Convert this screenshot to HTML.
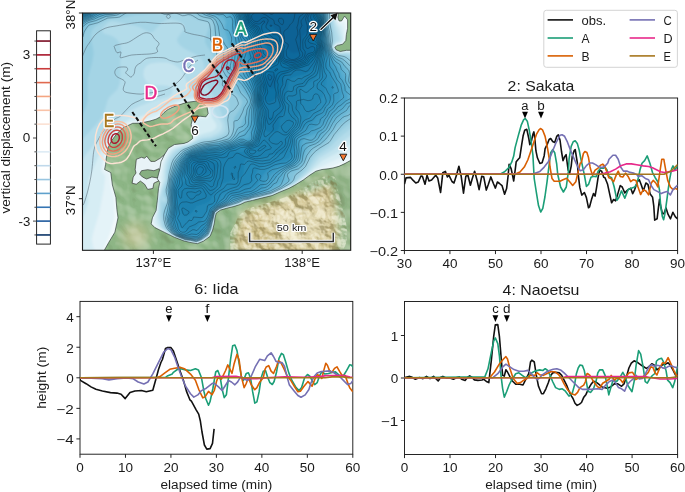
<!DOCTYPE html>
<html><head><meta charset="utf-8"><style>html,body{margin:0;padding:0;background:#fff;width:685px;height:492px;overflow:hidden}svg{display:block;will-change:transform}</style></head>
<body><svg width="685" height="492" viewBox="0 0 685 492"><defs>
<clipPath id="csak"><rect x="404.4" y="98" width="273.20" height="152.50"/></clipPath>
<clipPath id="ciida"><rect x="80" y="301.4" width="272.80" height="152.80"/></clipPath>
<clipPath id="cnao"><rect x="404.5" y="301.5" width="273.10" height="153.00"/></clipPath>
</defs>
<defs>
<clipPath id="mapclip"><rect x="82.5" y="13.0" width="268.2" height="237.3"/></clipPath>
<filter id="b1" x="-50%" y="-50%" width="200%" height="200%"><feGaussianBlur stdDeviation="1"/></filter>
<filter id="b2" x="-50%" y="-50%" width="200%" height="200%"><feGaussianBlur stdDeviation="2"/></filter>
<filter id="b3" x="-50%" y="-50%" width="200%" height="200%"><feGaussianBlur stdDeviation="3"/></filter>
<filter id="b4" x="-50%" y="-50%" width="200%" height="200%"><feGaussianBlur stdDeviation="4"/></filter>
<filter id="b5" x="-50%" y="-50%" width="200%" height="200%"><feGaussianBlur stdDeviation="5"/></filter>
<filter id="b6" x="-50%" y="-50%" width="200%" height="200%"><feGaussianBlur stdDeviation="6"/></filter>
<filter id="b8" x="-50%" y="-50%" width="200%" height="200%"><feGaussianBlur stdDeviation="8"/></filter>
<filter id="b12" x="-50%" y="-50%" width="200%" height="200%"><feGaussianBlur stdDeviation="12"/></filter>
<filter id="hillhi" x="0" y="0" width="100%" height="100%" color-interpolation-filters="sRGB"><feTurbulence type="fractalNoise" baseFrequency="0.035" numOctaves="3" seed="11" result="n"/><feDiffuseLighting in="n" surfaceScale="6" diffuseConstant="1" lighting-color="#fff" result="l"><feDistantLight azimuth="315" elevation="45"/></feDiffuseLighting><feColorMatrix in="l" type="matrix" values="0 0 0 0 1  0 0 0 0 1  0 0 0 0 0.97  1.6 0 0 0 -1.0"/></filter>
<filter id="hilllo" x="0" y="0" width="100%" height="100%" color-interpolation-filters="sRGB"><feTurbulence type="fractalNoise" baseFrequency="0.035" numOctaves="3" seed="11" result="n"/><feDiffuseLighting in="n" surfaceScale="6" diffuseConstant="1" lighting-color="#fff" result="l"><feDistantLight azimuth="315" elevation="45"/></feDiffuseLighting><feColorMatrix in="l" type="matrix" values="0 0 0 0 0.25  0 0 0 0 0.25  0 0 0 0 0.1  -1.4 0 0 0 0.75"/></filter>
<filter id="hillhi2" x="0" y="0" width="100%" height="100%" color-interpolation-filters="sRGB"><feTurbulence type="fractalNoise" baseFrequency="0.07" numOctaves="4" seed="5" result="n"/><feDiffuseLighting in="n" surfaceScale="7" diffuseConstant="1" lighting-color="#fff" result="l"><feDistantLight azimuth="315" elevation="40"/></feDiffuseLighting><feColorMatrix in="l" type="matrix" values="0 0 0 0 1  0 0 0 0 0.99  0 0 0 0 0.93  1.8 0 0 0 -1.1"/></filter>
<filter id="hilllo2" x="0" y="0" width="100%" height="100%" color-interpolation-filters="sRGB"><feTurbulence type="fractalNoise" baseFrequency="0.07" numOctaves="4" seed="5" result="n"/><feDiffuseLighting in="n" surfaceScale="7" diffuseConstant="1" lighting-color="#fff" result="l"><feDistantLight azimuth="315" elevation="40"/></feDiffuseLighting><feColorMatrix in="l" type="matrix" values="0 0 0 0 0.45  0 0 0 0 0.4  0 0 0 0 0.2  -1.6 0 0 0 0.8"/></filter>
</defs>
<g clip-path="url(#mapclip)">
<rect x="80" y="10" width="275" height="245" fill="#f2f9fb"/>
<g filter="url(#b1)">
<path fill-rule="evenodd" fill="#e4f3f8" d="M102.5,254.5 80.0,254.5 79.8,10.0 341.2,10.0 338.0,10.9 337.0,17.5 339.0,21.7 342.0,22.0 344.5,20.9 344.8,21.5 346.3,28.5 345.4,33.5 345.1,40.5 342.0,44.2 337.0,44.8 334.3,47.0 336.0,49.7 340.0,51.7 344.5,50.3 352.5,50.3 354.5,50.8 354.5,155.2 342.5,162.1 331.5,166.8 315.5,170.5 296.5,184.3 274.0,194.8 261.5,198.4 252.5,199.9 249.5,201.4 244.5,201.9 239.5,204.9 233.0,206.9 226.5,207.9 220.5,209.9 215.9,213.0 212.4,230.5 209.0,236.9 202.5,241.4 197.5,243.4 184.5,241.4 175.5,237.9 162.5,230.7 157.0,228.5 155.0,227.3 151.9,223.0 152.7,217.5 156.3,210.5 156.3,208.0 156.8,207.5 157.2,198.5 157.7,198.0 158.9,187.0 160.0,183.5 160.0,181.9 158.1,178.5 158.4,176.5 161.7,161.5 165.9,153.0 168.5,148.5 174.5,144.8 188.0,142.4 192.6,139.0 193.1,138.5 193.2,133.0 192.3,123.5 193.0,119.3 196.5,116.7 205.0,116.6 206.0,117.1 208.5,113.5 207.9,108.5 207.4,106.5 206.5,105.6 202.5,102.6 201.0,102.6 195.5,100.6 191.0,101.5 187.0,101.5 176.5,105.0 167.9,109.0 164.3,111.5 159.5,116.5 155.0,118.7 149.0,120.8 141.5,122.3 132.5,122.5 122.5,127.5 115.0,134.5 111.0,140.0 109.0,143.9 107.4,147.5 105.3,157.0 103.7,169.5 109.4,173.0 110.8,185.5 114.0,197.5 114.6,217.5 110.1,233.5 102.9,250.0 103.0,254.5 102.5,254.5Z"/>
<path fill-rule="evenodd" fill="#d6edf4" d="M97.0,254.5 80.0,254.5 79.8,10.0 337.0,10.0 335.9,18.0 337.6,22.5 342.4,26.5 343.6,32.0 344.1,40.0 341.5,43.5 337.0,44.2 333.9,47.0 335.8,50.0 340.0,52.1 345.0,50.8 354.5,51.7 354.5,147.8 341.0,157.3 327.5,163.2 318.5,168.3 315.0,169.5 296.5,183.7 286.5,189.0 271.5,195.6 257.0,199.1 252.5,199.6 249.5,201.1 244.5,201.6 239.5,204.6 233.0,206.6 226.5,207.6 220.5,209.6 215.7,213.0 212.1,230.5 209.6,236.0 201.5,241.7 197.5,243.2 195.0,243.2 192.5,242.2 183.0,240.7 175.5,237.7 162.0,230.1 155.9,225.5 154.4,222.5 154.3,218.5 157.0,210.5 157.7,199.0 161.3,182.0 160.4,178.0 162.9,164.0 165.2,158.0 169.7,150.0 174.5,146.5 188.5,143.1 193.9,139.5 197.3,130.0 196.2,122.0 196.6,120.5 197.5,119.5 199.0,119.1 204.5,118.6 206.0,119.0 207.5,118.3 209.7,113.5 208.3,106.0 203.0,101.6 196.0,99.5 186.5,100.3 176.0,103.7 167.0,107.8 163.0,110.4 158.5,114.6 154.5,116.5 141.0,120.4 132.0,121.1 121.5,126.5 114.0,133.5 109.9,139.0 105.3,149.0 101.2,169.5 101.8,172.0 105.2,176.5 103.8,188.5 99.3,212.5 93.2,232.5 91.9,239.0 92.9,246.5 97.0,254.5Z"/>
<path fill-rule="evenodd" fill="#c4e4ef" d="M197.5,242.8 195.5,242.9 190.0,241.4 184.5,240.8 175.5,237.3 169.6,234.0 162.0,229.1 159.9,227.0 157.7,223.0 156.7,217.0 157.9,211.0 158.3,199.5 160.9,188.0 163.2,181.0 163.7,171.5 164.7,164.5 166.7,159.0 170.0,153.0 172.0,150.5 175.5,147.9 189.0,143.8 194.5,140.5 200.0,135.2 203.0,133.9 211.9,131.5 214.9,129.5 216.6,127.0 216.3,124.0 212.2,118.0 211.3,112.0 209.4,105.0 204.0,100.4 196.0,97.5 186.5,97.9 182.5,99.1 165.5,105.8 155.5,111.4 140.0,116.6 131.0,118.6 120.5,124.5 112.5,131.8 107.6,138.0 103.2,145.5 89.0,177.8 87.9,184.0 88.3,201.5 84.9,212.5 80.0,223.6 79.8,10.0 335.5,10.0 334.7,18.5 336.1,23.5 339.5,28.8 342.5,39.0 341.0,42.4 336.5,43.6 333.5,46.5 333.6,47.5 335.5,50.4 340.0,52.7 345.5,51.5 354.5,52.8 354.5,140.2 338.0,152.6 322.5,160.4 308.1,174.0 296.0,183.4 290.0,186.6 271.0,195.2 252.5,199.3 249.0,200.8 244.5,201.3 239.0,204.3 232.5,206.3 226.5,207.3 220.2,209.5 215.4,213.0 211.9,230.0 209.2,236.0 202.5,240.8 197.5,242.8Z"/>
<path fill-rule="evenodd" fill="#b3dcea" d="M197.0,242.6 185.0,240.6 176.0,237.1 170.0,233.9 162.5,228.1 161.1,225.5 159.0,217.0 159.2,199.5 162.2,188.5 165.6,180.0 165.5,172.0 167.2,163.0 169.7,157.5 172.7,153.0 176.5,149.5 179.5,147.9 189.5,144.5 200.5,138.2 211.0,136.2 218.0,133.0 220.5,130.9 222.0,128.0 222.1,125.0 221.0,121.8 214.9,112.5 211.0,102.9 205.5,97.5 193.5,90.0 190.0,87.0 187.3,83.0 183.2,73.0 178.9,68.0 173.0,64.3 168.0,62.6 158.0,62.4 150.5,63.4 146.1,66.0 143.7,70.0 143.4,75.5 145.3,80.5 148.0,83.3 152.0,85.0 165.5,85.5 170.5,86.8 172.1,88.0 173.0,90.0 171.7,94.0 170.0,95.8 167.5,97.2 157.0,99.7 141.0,105.4 129.0,111.2 123.0,115.2 108.7,128.5 95.2,143.0 86.2,154.0 80.0,163.8 79.8,10.0 334.0,10.0 333.2,16.0 333.8,21.5 339.6,39.5 338.2,41.5 336.0,42.6 333.9,45.0 333.0,47.5 335.0,50.6 339.5,53.2 345.5,52.4 351.0,53.2 354.5,54.4 354.5,132.7 342.0,141.8 333.5,149.5 319.5,157.8 307.5,172.8 297.3,181.5 293.0,184.3 271.0,194.8 252.4,199.0 249.0,200.5 244.0,201.1 239.0,204.0 232.5,206.0 226.5,207.0 220.0,209.3 215.5,212.3 211.6,230.0 209.0,235.7 202.2,240.5 197.0,242.6Z"/>
<path fill-rule="evenodd" fill="#a4d4e5" d="M197.0,242.3 185.0,240.3 181.0,238.8 171.0,234.0 165.4,229.5 163.0,226.0 161.1,217.0 160.9,204.5 161.5,200.3 162.0,201.5 163.5,202.3 165.0,201.9 166.1,200.5 166.0,199.0 163.4,196.0 163.1,192.0 166.7,180.5 167.1,172.5 168.7,165.0 171.0,159.5 174.7,154.0 177.8,151.0 182.5,148.0 190.0,145.3 199.5,140.7 203.5,139.6 211.0,138.8 219.8,135.5 223.7,133.0 225.5,130.0 225.9,126.5 225.0,122.5 216.7,101.0 214.0,96.0 207.1,86.5 205.0,82.0 204.0,76.5 204.1,65.0 202.9,61.0 201.0,58.4 198.0,55.7 183.4,48.0 180.2,45.5 177.7,42.5 177.0,40.0 177.5,38.0 183.4,30.0 184.5,27.0 183.0,24.0 178.0,20.9 171.0,19.0 166.2,20.0 161.2,23.0 154.0,30.8 151.0,32.4 148.5,31.8 139.5,27.1 134.5,25.6 114.0,21.6 110.7,21.5 108.3,22.5 103.1,27.5 102.1,30.0 102.5,32.0 104.5,33.8 112.0,36.1 116.0,38.5 118.9,42.0 120.7,47.0 121.1,51.5 120.2,64.0 120.4,78.0 119.6,84.0 116.9,90.0 110.0,96.6 108.0,99.2 104.3,112.0 101.0,118.5 96.2,124.5 80.0,141.6 79.9,10.0 332.3,10.0 331.8,19.5 335.2,38.5 334.1,43.0 332.4,46.0 332.6,48.0 334.5,51.0 339.0,53.7 347.2,54.0 350.5,55.0 354.5,57.4 354.5,125.7 339.5,137.5 330.1,147.0 317.3,155.5 314.7,158.5 306.5,171.1 295.5,181.9 292.5,183.9 271.0,194.2 252.0,198.7 249.0,200.0 244.0,200.7 239.0,203.5 220.0,208.9 215.4,212.0 214.3,214.5 211.2,230.0 208.7,235.5 202.0,240.3 197.0,242.3Z"/>
<path fill-rule="evenodd" fill="#95cce0" d="M197.5,241.5 196.0,242.0 183.5,239.4 176.0,236.3 168.1,231.0 165.8,228.5 164.3,225.0 162.8,216.0 162.8,210.5 163.8,206.5 166.5,202.7 167.2,200.5 165.3,193.5 165.2,190.5 167.6,181.0 169.3,169.5 172.0,162.0 176.1,155.5 183.0,149.3 194.5,144.4 202.0,141.7 212.5,140.3 224.5,136.3 227.7,134.0 229.4,130.5 229.6,126.5 227.6,117.0 229.0,104.0 228.6,100.0 226.7,96.0 218.9,85.5 216.2,80.5 215.0,75.5 214.9,63.5 214.0,58.0 212.1,53.5 206.6,45.5 205.1,42.0 205.3,37.5 209.1,27.0 209.0,23.0 207.5,21.8 198.0,19.8 188.5,15.3 183.5,13.7 176.0,12.5 165.0,12.4 134.0,15.2 122.0,17.9 110.0,18.9 104.9,21.0 95.3,26.5 92.2,30.0 90.8,34.5 90.9,38.5 93.3,49.5 93.6,54.0 92.2,62.5 87.6,79.5 87.8,100.5 85.0,110.0 80.0,118.9 79.9,10.0 330.7,10.0 330.3,19.5 332.2,32.5 332.6,41.0 331.6,46.0 331.9,48.0 334.1,51.5 339.0,54.7 346.5,55.9 349.3,57.5 354.5,63.3 354.5,119.3 339.0,132.3 327.7,144.5 314.9,153.5 312.2,157.0 305.0,169.0 294.7,181.0 292.2,183.0 285.5,186.9 270.5,193.8 252.0,198.2 248.5,199.7 244.0,200.2 238.5,203.1 220.0,208.5 215.0,211.9 214.1,214.0 210.9,229.5 208.5,235.0 202.0,239.8 197.5,241.5Z"/>
<path fill-rule="evenodd" fill="#80c2db" d="M80.0,45.4 80.0,9.9 133.1,10.0 119.5,15.2 106.5,18.1 91.0,24.2 87.9,27.0 84.9,31.5 80.0,45.4Z M196.5,241.5 185.5,239.6 175.5,235.6 170.7,232.5 167.9,229.5 166.2,226.5 164.8,219.0 164.6,212.5 165.2,209.0 168.0,201.5 166.8,189.5 171.4,168.5 173.8,162.5 177.0,157.4 181.9,152.0 186.2,149.0 200.5,143.7 215.5,141.2 227.0,138.2 230.1,136.5 232.4,133.5 233.9,129.5 234.1,118.0 240.7,108.0 242.5,102.5 242.0,100.5 238.6,95.5 227.4,82.5 224.3,76.5 222.9,71.0 220.1,52.5 214.2,38.5 214.0,24.5 213.1,21.0 210.5,18.8 200.5,16.2 188.6,10.0 329.1,10.0 329.0,21.0 331.1,48.0 334.0,52.5 338.5,55.8 344.2,58.0 347.0,60.2 350.5,65.0 354.5,72.9 354.5,113.2 337.5,128.0 325.0,142.5 315.5,148.7 312.5,151.3 303.4,166.5 294.4,175.0 293.3,179.5 290.8,182.5 286.0,185.6 270.5,193.0 260.5,196.0 252.0,197.7 248.5,199.1 244.0,199.7 238.5,202.6 226.0,205.8 219.5,208.3 214.1,212.5 210.5,229.5 208.0,235.0 201.7,239.5 196.5,241.5Z"/>
<path fill-rule="evenodd" fill="#6cb8d6" d="M80.0,31.0 80.0,9.9 124.3,10.0 114.5,14.3 90.0,21.3 85.0,25.0 80.0,31.0Z M196.5,241.0 185.5,239.1 176.5,235.5 171.0,231.7 167.7,226.5 166.5,221.0 166.1,216.0 166.6,211.0 168.8,202.0 168.1,189.5 169.8,179.0 173.0,169.0 175.7,163.0 178.8,158.0 183.5,152.5 187.8,149.5 202.0,144.8 229.2,140.0 233.3,137.5 236.9,133.0 240.5,126.5 246.5,109.5 248.7,101.0 247.0,96.8 234.3,80.5 230.7,74.0 228.4,66.0 225.1,47.0 219.9,34.5 216.8,20.0 213.8,17.5 204.2,14.5 196.5,10.0 327.6,10.0 327.8,24.5 328.8,39.5 330.0,47.5 333.0,53.0 342.2,60.5 345.0,64.0 348.3,70.0 354.5,84.3 354.5,106.4 350.1,111.5 335.0,124.5 322.5,140.3 313.0,145.8 310.5,148.0 308.1,151.5 303.8,161.0 301.0,165.1 297.0,168.6 290.0,171.9 288.2,173.5 287.7,176.0 289.7,180.0 288.0,182.2 281.0,186.5 270.0,192.1 248.5,198.4 243.5,199.2 238.5,201.8 226.0,205.2 219.0,208.0 213.8,212.0 209.9,229.5 207.7,234.5 201.5,239.0 196.5,241.0Z"/>
<path fill-rule="evenodd" fill="#59add0" d="M80.0,25.6 80.0,9.9 118.8,10.0 111.0,13.6 89.0,19.4 84.4,22.0 80.0,25.6Z M197.0,240.1 185.5,238.5 176.5,234.8 171.7,231.0 169.4,227.0 168.0,221.5 167.7,216.5 169.7,203.5 169.6,188.5 170.7,180.0 172.0,176.3 176.2,166.0 179.4,160.0 184.0,154.0 188.0,150.8 193.5,148.5 202.5,146.1 230.7,141.5 234.9,139.5 243.9,133.0 245.6,130.0 248.1,120.5 251.0,101.0 249.5,95.8 238.0,76.0 234.2,67.0 230.5,48.5 225.6,32.5 224.9,27.0 225.8,22.0 225.4,20.0 223.3,17.5 220.5,15.9 209.0,13.9 202.2,10.0 326.1,10.0 327.4,39.0 328.9,47.5 331.5,53.0 340.6,64.0 345.0,73.0 352.5,93.0 352.8,98.5 351.3,103.0 346.8,108.5 331.7,121.5 319.9,137.0 317.5,138.8 310.0,142.0 307.5,144.0 306.0,146.5 303.0,156.5 300.5,161.5 296.1,166.0 288.0,170.0 285.4,172.0 283.6,175.0 282.7,180.5 280.5,183.5 272.0,189.3 266.0,192.1 248.0,197.7 243.5,198.3 238.0,201.0 225.5,204.6 219.0,207.3 214.0,210.8 213.2,212.0 209.2,229.5 207.2,234.0 201.0,238.6 197.0,240.1Z"/>
<path fill-rule="evenodd" fill="#47a2c9" d="M80.0,22.0 80.0,9.9 114.2,10.0 109.5,12.1 88.0,17.8 80.0,22.0Z M197.5,239.1 196.0,239.4 186.0,237.8 179.5,235.3 173.7,231.5 171.1,227.0 169.5,221.5 169.2,218.0 170.9,205.0 170.8,189.0 172.9,178.0 181.4,160.0 185.1,155.0 189.5,151.5 203.0,147.5 229.5,143.5 240.5,139.9 248.6,138.5 249.8,135.5 252.6,105.5 252.6,100.5 251.8,96.5 239.7,67.5 237.6,60.5 235.5,49.0 232.2,38.5 231.4,31.5 232.2,21.5 231.4,18.0 228.5,14.2 224.0,11.7 219.5,10.9 211.0,11.5 207.6,10.0 324.6,10.0 326.0,38.5 327.4,46.5 329.9,53.0 338.5,68.0 345.3,86.5 347.5,95.0 347.4,98.0 346.3,101.0 342.3,106.0 328.8,118.0 317.5,131.9 314.0,134.2 306.0,137.5 303.0,139.7 301.9,142.0 301.3,151.0 300.2,156.0 298.5,160.0 296.0,163.0 292.5,165.4 284.6,169.0 281.2,171.5 276.1,177.5 270.2,186.0 265.4,190.0 259.5,192.8 248.0,196.4 243.0,197.3 238.0,199.6 225.5,203.5 219.0,206.4 213.9,210.0 211.9,213.5 208.4,229.0 206.5,233.5 200.5,237.9 197.5,239.1Z"/>
<path fill-rule="evenodd" fill="#3998c2" d="M80.0,19.2 80.0,9.9 109.2,10.0 86.5,16.5 80.0,19.2Z M197.0,238.0 186.0,236.6 177.0,232.7 173.7,228.5 171.2,220.5 172.3,206.5 172.1,190.0 173.1,183.0 174.3,179.0 182.7,161.0 187.2,155.0 192.5,151.7 208.0,147.9 220.0,147.0 240.5,142.9 248.5,141.9 251.5,140.1 252.8,136.0 254.6,113.0 253.6,97.0 245.2,70.5 240.7,49.5 236.5,36.5 234.9,18.5 232.5,13.5 229.2,10.0 323.1,10.0 324.2,21.5 325.2,42.0 327.1,50.0 334.5,68.5 339.7,85.5 341.0,94.0 340.5,97.0 339.3,100.0 336.3,104.0 326.0,114.1 316.0,125.9 312.0,128.9 303.5,133.4 300.0,136.5 298.2,140.5 298.2,150.5 297.6,155.0 296.3,158.5 294.1,161.5 290.5,163.9 279.4,168.5 272.0,173.5 267.7,178.0 262.7,187.0 259.0,190.2 248.5,194.4 242.0,195.7 229.5,199.7 218.5,205.4 213.5,209.1 212.0,210.8 210.9,213.5 207.0,229.0 205.6,232.5 200.0,236.8 197.0,238.0Z"/>
<path fill-rule="evenodd" fill="#2b8ebb" d="M80.0,16.7 80.0,10.0 101.5,10.0 80.0,16.7Z M197.0,235.6 186.5,234.9 180.0,232.3 176.4,228.5 173.5,220.0 174.0,207.0 173.5,191.0 173.9,187.0 175.6,181.0 180.0,172.5 185.2,160.0 189.6,155.0 196.0,152.4 209.5,149.2 220.0,148.9 229.5,146.7 249.5,143.8 252.0,142.6 253.5,141.0 255.4,135.5 256.9,113.0 254.6,94.0 248.9,70.5 247.9,59.5 245.5,48.0 239.8,33.0 237.3,17.5 233.7,10.0 321.5,10.0 323.3,23.0 323.7,41.0 333.7,84.5 333.8,92.5 331.8,98.5 313.5,120.7 301.5,129.5 297.8,133.5 296.3,136.5 295.4,140.0 294.7,154.5 293.7,157.5 292.0,160.1 289.0,162.0 275.0,166.4 267.5,170.5 263.1,175.0 257.7,185.0 253.5,188.8 247.0,191.6 229.5,195.6 217.5,204.1 212.1,208.5 210.6,210.5 203.7,231.0 200.1,234.0 197.0,235.6Z"/>
<path fill-rule="evenodd" fill="#2387b5" d="M81.0,14.0 80.0,14.3 80.0,10.0 95.4,10.0 90.0,12.0 81.0,14.0Z M190.5,230.1 187.0,230.5 183.5,229.5 180.9,227.5 178.5,223.8 176.6,217.5 175.3,198.5 175.2,190.5 176.1,186.5 177.9,182.0 182.3,174.5 185.7,163.5 187.9,159.0 190.5,156.6 193.5,155.0 209.0,151.2 220.0,151.1 229.5,148.5 240.5,148.2 250.5,145.6 253.5,144.2 255.2,142.5 257.9,135.5 259.1,112.0 252.1,69.5 250.2,48.0 248.3,41.5 242.3,30.5 239.6,17.5 236.9,10.0 320.0,10.0 322.4,24.0 322.0,39.0 325.6,63.5 326.3,80.0 325.4,88.0 322.8,96.0 317.1,105.0 308.9,116.0 298.5,125.9 294.5,131.4 292.9,136.5 291.4,152.5 290.0,157.0 287.5,159.1 272.5,162.4 265.0,165.0 260.2,167.5 257.1,171.0 253.5,181.0 249.5,184.8 245.0,186.5 231.0,188.9 224.5,191.9 221.7,194.5 214.8,203.0 208.6,209.0 198.0,226.4 195.5,228.5 190.5,230.1Z"/>
<path fill-rule="evenodd" fill="#1b80af" d="M81.5,11.6 80.0,11.9 80.0,10.0 89.2,10.0 81.5,11.6Z M187.5,216.1 185.5,216.5 184.0,216.0 181.5,212.5 178.5,198.8 178.0,191.5 178.6,188.5 180.5,185.0 187.4,179.0 187.5,167.0 188.5,162.5 190.0,159.7 193.0,157.6 197.0,156.4 210.0,154.1 221.0,154.1 230.0,151.0 238.5,152.3 242.5,151.9 248.5,148.8 254.0,147.2 256.5,145.8 258.6,143.0 261.1,136.0 261.6,112.5 258.4,100.0 258.0,89.5 254.8,64.0 254.4,46.5 252.2,40.0 246.5,32.2 244.3,28.0 239.8,10.0 318.3,10.0 321.4,24.5 320.3,37.0 321.9,47.5 322.4,55.5 321.2,67.0 319.1,73.0 316.5,77.0 314.0,79.2 303.5,86.0 300.6,89.5 299.9,93.5 300.7,103.0 299.9,109.5 297.0,117.0 289.6,129.5 288.6,133.5 288.2,141.0 285.1,152.0 282.0,154.0 272.5,155.1 261.5,158.0 257.0,158.4 250.0,157.9 246.5,159.0 244.6,161.0 243.6,163.5 243.3,173.5 242.0,176.2 238.5,178.2 223.5,183.0 218.0,185.8 214.5,189.8 211.5,198.3 210.0,200.7 205.0,203.6 196.5,206.0 191.5,213.0 187.5,216.1Z"/>
<path fill-rule="evenodd" fill="#1678a9" d="M274.0,132.0 268.0,132.0 266.0,130.5 265.2,128.5 264.4,122.0 264.5,110.5 260.2,99.5 260.4,90.0 257.8,60.5 259.6,51.5 259.4,47.0 256.4,39.5 248.5,30.0 246.0,25.8 244.4,21.0 242.5,10.0 316.4,10.0 320.4,25.0 318.5,37.0 320.1,45.5 320.2,51.0 318.3,61.0 315.1,67.0 311.0,70.8 305.0,73.7 293.0,77.1 290.5,78.5 289.2,80.0 285.3,99.0 284.0,110.5 279.3,120.0 279.0,127.5 277.2,130.5 274.0,132.0Z M205.0,175.0 202.0,175.5 199.0,175.0 196.0,173.6 193.5,171.5 192.1,169.0 191.5,166.0 191.9,163.5 193.2,161.5 197.5,159.7 204.0,159.4 214.5,162.1 217.2,163.5 218.0,165.0 217.9,166.5 215.9,169.5 211.2,172.5 205.0,175.0Z"/>
<path fill-rule="evenodd" fill="#1171a3" d="M270.0,102.6 266.5,101.6 264.1,98.5 262.5,81.0 262.7,75.5 263.6,71.0 265.0,67.7 266.5,66.4 271.5,64.9 273.7,63.5 275.0,61.0 274.8,58.0 273.4,55.0 268.0,48.8 261.3,38.5 251.5,29.0 248.5,25.4 246.3,20.0 245.3,10.0 314.3,10.0 319.2,25.0 316.2,37.0 318.2,46.5 317.5,51.6 315.8,56.5 312.5,61.5 307.5,65.6 301.5,68.2 290.0,71.3 286.0,73.7 283.8,77.5 281.1,88.5 278.5,94.5 274.5,99.8 270.0,102.6Z M271.0,122.1 269.5,121.6 268.9,120.0 269.5,117.6 271.0,116.2 272.0,116.8 272.6,119.0 272.1,121.0 271.0,122.1Z"/>
<path fill-rule="evenodd" fill="#0d699c" d="M292.5,64.1 288.0,63.9 285.0,62.1 278.4,50.0 269.7,38.5 264.5,33.6 254.5,27.2 250.5,23.6 248.4,19.0 248.5,10.0 311.8,10.0 314.1,17.5 317.8,25.0 315.5,31.0 309.2,39.5 309.9,41.5 314.5,45.0 314.8,46.5 314.3,49.0 311.5,54.0 306.5,58.7 300.0,62.1 292.5,64.1Z M272.0,88.5 270.0,88.4 268.1,86.5 266.9,83.5 266.4,80.0 267.0,77.3 268.4,75.0 270.5,73.7 272.5,73.4 274.5,74.0 276.0,75.4 277.0,80.0 275.4,85.5 274.0,87.3 272.0,88.5Z"/>
<path fill-rule="evenodd" fill="#0a6295" d="M296.0,53.1 292.0,53.1 288.5,50.2 283.4,43.0 276.0,29.8 272.5,25.7 269.5,24.5 258.5,23.6 255.5,22.5 253.0,20.7 252.0,19.0 251.7,17.0 253.2,10.0 307.8,10.0 309.6,13.5 309.2,20.0 313.6,23.5 314.4,26.0 312.0,29.4 305.5,33.4 302.9,36.0 301.0,40.5 300.3,49.0 298.6,51.5 296.0,53.1Z"/>
</g>
<path d="M82.0,57.4 C82.7,55.8 84.8,50.3 86.0,48.0 C87.2,45.7 87.3,45.7 89.0,43.4 C90.7,41.1 93.3,36.5 96.0,34.0 C98.7,31.5 101.9,29.6 105.4,28.2 C108.9,26.8 111.2,26.8 117.0,25.8 C122.8,24.8 133.4,22.7 140.4,22.3 C147.4,21.9 152.4,23.3 159.0,23.5 C165.6,23.7 175.7,22.5 180.0,23.5 C184.3,24.5 184.0,28.0 184.8,29.4 C185.6,30.8 183.6,30.9 184.8,31.7 C186.0,32.5 188.7,33.2 191.8,34.0 C194.9,34.8 200.1,35.4 203.5,36.4 C206.9,37.4 209.9,38.4 212.0,40.0 C214.1,41.6 215.3,45.0 216.0,46.0" fill="none" stroke="#4d5d68" stroke-width="0.6" stroke-opacity="0.85"/>
<path d="M114.7,45.7 C115.8,45.0 118.7,44.6 121.0,44.0 C123.3,43.4 125.9,43.5 128.7,42.2 C131.5,40.9 135.3,38.0 138.0,36.4 C140.7,34.8 142.8,33.3 145.0,32.9 C147.2,32.5 149.4,33.0 151.0,34.0 C152.6,35.0 153.1,37.1 154.4,38.7 C155.7,40.3 158.6,41.9 159.0,43.4 C159.4,44.9 157.0,46.6 156.7,48.0 C156.4,49.4 158.3,51.0 157.4,52.0 C156.5,53.0 153.9,53.4 151.3,53.8 C148.7,54.2 144.8,54.2 141.6,54.4 C138.3,54.6 134.7,54.6 131.8,55.0 C129.0,55.4 126.4,56.5 124.5,56.9 C122.6,57.3 120.8,58.3 120.2,57.5 C119.6,56.7 121.4,52.8 120.9,52.0 C120.4,51.2 118.0,53.4 117.0,52.7 C116.0,52.0 115.1,49.2 114.7,48.0 C114.3,46.8 113.7,46.4 114.7,45.7Z" fill="none" stroke="#4d5d68" stroke-width="0.6" stroke-opacity="0.85"/>
<path d="M205.0,55.0 C203.6,55.2 199.9,55.4 196.5,56.2 C193.1,57.0 187.9,58.7 184.8,59.7 C181.7,60.7 180.3,61.9 177.8,62.0 C175.3,62.1 171.7,60.9 169.6,60.3 C167.5,59.6 167.2,58.6 165.0,58.1 C162.8,57.6 159.1,57.5 156.2,57.5 C153.3,57.5 149.7,57.7 147.7,58.1 C145.7,58.5 145.2,59.1 144.0,59.9 C142.8,60.7 141.6,62.1 140.4,63.0 C139.2,63.9 137.6,64.4 136.7,65.4 C135.8,66.4 135.3,67.8 134.9,69.1 C134.5,70.4 134.9,72.0 134.3,73.3 C133.7,74.6 132.2,76.7 131.2,77.0 C130.2,77.3 129.1,75.9 128.2,75.2 C127.3,74.5 125.8,73.6 125.7,72.7 C125.6,71.8 127.5,70.6 127.6,69.7 C127.7,68.8 127.6,67.6 126.3,67.2 C125.0,66.8 121.3,66.9 119.6,67.2 C117.9,67.5 116.8,68.2 116.0,69.1 C115.2,70.0 114.7,71.5 114.8,72.7 C114.9,73.9 115.8,75.5 116.6,76.4 C117.4,77.3 118.5,77.6 119.6,78.2 C120.7,78.8 122.4,79.3 123.3,80.0 C124.2,80.7 125.0,81.5 125.1,82.5 C125.2,83.5 124.2,84.9 123.9,86.1 C123.6,87.3 123.0,88.8 123.3,89.8 C123.6,90.8 124.1,91.6 125.7,92.2 C127.3,92.8 130.6,93.2 133.0,93.5 C135.4,93.8 138.4,94.1 140.4,94.1 C142.4,94.1 142.1,93.9 145.2,93.5 C148.2,93.1 154.6,92.5 158.7,91.6 C162.8,90.7 166.4,89.9 170.0,88.0 C173.6,86.1 177.3,82.7 180.0,80.0 C182.7,77.3 184.3,74.3 186.0,72.0 C187.7,69.7 188.0,68.0 190.0,66.0 C192.0,64.0 196.7,61.0 198.0,60.0" fill="none" stroke="#4d5d68" stroke-width="0.6" stroke-opacity="0.85"/>
<path d="M82.5,205.0 C82.8,204.7 83.1,205.9 84.0,203.4 C84.9,200.9 86.7,195.2 88.0,190.0 C89.3,184.8 90.6,178.7 91.6,172.0 C92.6,165.3 92.9,155.3 94.0,150.0 C95.1,144.7 96.2,143.4 98.0,140.0 C99.8,136.6 102.5,132.1 104.6,129.4 C106.6,126.7 108.5,125.5 110.3,123.8 C112.0,122.0 113.5,120.1 115.1,118.9 C116.7,117.7 118.2,117.8 120.0,116.4 C121.8,115.0 123.7,112.5 125.7,110.5 C127.7,108.5 129.6,106.0 131.8,104.4 C134.0,102.8 136.9,101.8 139.1,100.8 C141.3,99.8 142.5,98.9 145.2,98.3 C147.8,97.7 151.7,97.7 155.0,97.0 C158.3,96.3 163.3,94.5 165.0,94.0" fill="none" stroke="#4d5d68" stroke-width="0.6" stroke-opacity="0.85"/>
<path d="M166.4,16.5 C166.4,15.8 167.7,14.5 168.4,14.5 C169.1,14.5 170.4,15.8 170.4,16.5 C170.4,17.2 169.1,18.5 168.4,18.5 C167.7,18.5 166.4,17.2 166.4,16.5Z" fill="none" stroke="#4d5d68" stroke-width="0.6" stroke-opacity="0.85"/>
<g clip-path="url(#mapclip)"><path fill="none" stroke="#0e2a3b" stroke-width="0.5" stroke-opacity="0.72" d="M80.0,40.5 80.0,9.9 130.9,10.0 119.5,17.0 117.0,17.5 107.8,18.0 98.0,22.7 89.3,25.0 87.6,26.5 84.9,30.5 84.0,32.5 82.9,37.0 80.0,40.5Z M138.0,10.6 136.0,10.8 133.0,10.0 139.4,10.0 138.0,10.6Z M196.5,241.7 190.5,240.3 185.5,239.8 176.0,236.1 171.5,233.4 168.4,230.5 166.5,228.0 165.2,225.0 163.8,219.5 163.7,214.5 164.6,210.5 167.5,202.9 167.9,200.0 167.6,197.5 166.3,192.5 166.1,189.5 167.9,182.0 168.9,174.5 171.8,163.0 173.4,159.5 176.0,156.0 180.4,151.5 183.4,149.5 201.0,142.7 204.5,141.9 211.0,141.3 216.0,140.2 221.5,138.5 227.0,135.9 228.4,134.0 229.0,131.5 227.7,120.0 228.5,115.0 230.0,112.3 233.3,110.5 234.9,109.0 238.2,104.5 238.4,103.0 236.7,98.5 235.5,96.7 232.5,94.4 227.2,92.0 225.5,88.5 222.9,86.0 222.3,84.5 222.6,81.0 222.0,78.6 218.3,74.0 215.8,70.0 215.5,68.0 216.9,58.0 216.6,53.0 216.0,50.2 214.5,46.5 210.5,40.0 210.6,30.0 209.6,24.5 208.5,22.2 207.3,21.5 198.5,19.4 192.5,15.6 190.5,14.8 188.0,14.6 184.5,15.6 182.5,15.7 176.5,13.3 174.5,12.9 169.0,14.3 164.5,14.4 161.5,13.2 157.6,10.0 329.3,10.0 329.8,23.5 331.7,32.5 332.4,41.0 331.5,47.0 332.8,50.5 334.5,52.5 338.5,55.4 344.1,56.5 346.5,57.7 350.5,61.0 354.5,65.0 354.5,115.8 345.5,122.0 342.1,125.0 334.2,134.5 330.6,140.5 329.0,142.5 319.8,148.0 315.8,151.0 313.2,153.5 310.0,157.5 305.5,166.5 302.0,170.0 295.9,174.5 294.9,176.0 293.6,180.0 291.0,182.9 281.0,188.8 270.5,193.6 267.5,194.1 260.5,196.1 252.0,197.8 248.5,199.3 244.0,199.7 238.5,202.5 227.5,206.0 226.0,206.1 219.5,208.6 215.0,211.8 214.5,212.5 210.5,229.5 208.0,234.8 201.5,239.5 196.5,241.7Z M80.0,29.1 80.0,9.9 124.1,10.0 120.5,13.2 117.0,15.0 114.0,15.6 106.0,16.3 95.5,20.7 88.5,22.4 85.9,24.0 80.0,29.1Z M183.5,10.5 181.0,10.5 178.8,10.0 185.8,10.0 183.5,10.5Z M196.5,241.0 190.5,239.7 185.5,239.3 175.5,235.3 171.0,231.9 168.1,228.0 166.7,224.5 165.7,220.5 165.6,218.0 167.5,210.5 168.9,202.0 168.9,197.5 168.0,189.5 169.9,176.5 173.9,163.0 175.5,160.1 181.5,153.1 183.5,151.4 186.5,149.9 195.5,146.1 202.0,144.2 218.5,141.7 228.0,139.1 229.5,138.2 231.6,135.5 233.1,132.0 233.9,127.0 233.9,121.5 234.6,121.0 237.5,120.3 239.0,119.0 242.5,112.3 244.2,107.5 247.1,103.0 247.5,101.5 246.5,99.1 240.8,93.0 237.6,86.0 231.0,79.0 227.5,77.2 226.0,76.0 221.7,68.5 221.6,66.5 223.5,60.5 223.6,54.0 222.8,51.5 220.0,46.5 215.9,37.5 214.9,26.0 213.0,21.0 211.9,19.5 210.0,18.3 203.5,17.1 200.0,15.7 198.3,14.5 194.0,10.0 327.5,10.0 327.9,24.5 329.6,32.5 330.6,42.5 330.5,47.0 331.9,51.0 333.5,53.6 336.5,56.5 342.5,59.0 344.5,60.5 352.3,68.0 354.2,71.5 354.5,73.0 354.5,107.1 351.2,112.5 349.5,114.5 348.0,115.5 344.5,116.5 342.5,117.6 336.1,124.0 333.1,129.5 325.9,139.0 320.3,144.0 313.0,148.2 310.4,150.5 306.8,155.5 304.1,163.0 302.0,165.9 298.5,168.8 291.5,170.9 288.3,173.0 287.5,174.5 287.4,176.0 289.2,180.0 288.5,181.5 287.0,182.9 280.5,187.7 270.5,192.5 252.0,196.9 248.5,198.4 243.5,198.9 239.0,201.0 219.5,208.0 214.3,212.0 210.4,227.5 207.4,234.0 201.0,238.9 196.5,241.0Z M80.0,26.3 80.0,9.9 121.0,10.0 118.5,12.2 115.5,13.7 112.5,14.3 105.0,14.7 99.0,16.8 94.5,19.0 88.9,20.5 86.0,22.0 80.0,26.3Z M196.5,240.1 190.5,239.1 185.5,238.7 176.5,235.2 173.9,233.5 171.5,231.2 169.0,227.0 167.6,222.5 167.1,218.5 169.0,212.7 169.9,205.5 169.9,196.5 169.3,190.0 170.2,180.0 175.5,163.5 176.9,161.0 183.5,153.2 193.1,148.5 197.5,146.8 206.0,144.7 218.5,143.8 225.0,141.5 229.0,140.9 230.7,140.0 234.4,135.5 237.5,128.8 239.0,127.7 243.0,126.2 245.2,124.0 245.6,122.5 245.3,118.0 246.5,114.0 246.9,110.0 247.7,108.0 250.0,103.9 250.6,101.0 250.2,99.0 248.5,95.2 245.4,89.5 242.0,84.5 237.8,80.0 233.0,75.8 228.5,73.1 227.1,71.0 226.4,67.5 228.5,57.5 227.7,49.0 227.2,47.5 224.8,44.5 223.0,40.9 219.8,36.5 218.2,26.0 216.2,21.0 214.7,19.0 212.8,17.5 205.0,14.9 200.0,11.8 198.1,10.0 326.2,10.0 326.5,24.5 328.1,32.0 329.9,48.5 332.0,54.0 334.0,56.9 336.5,59.2 341.7,62.0 344.9,66.5 348.1,69.5 349.0,70.8 349.5,73.5 348.6,80.0 348.9,82.0 350.6,84.5 354.5,86.9 354.5,103.2 349.2,106.0 346.5,110.5 341.0,113.9 336.4,117.5 332.5,123.5 329.1,130.0 323.5,136.0 319.1,141.5 315.5,143.8 309.1,146.0 305.8,148.5 304.5,150.4 303.5,153.0 302.8,156.0 302.4,160.0 301.5,162.3 297.0,166.4 289.5,169.5 286.1,172.0 284.8,174.0 283.6,178.5 281.6,183.5 280.0,185.9 270.0,191.1 254.0,195.2 248.0,197.5 242.5,198.1 234.0,201.2 229.0,203.8 219.0,207.6 214.5,211.1 213.8,212.0 212.5,218.0 211.2,221.0 209.7,227.0 206.6,233.5 200.5,238.3 196.5,240.1Z M80.0,24.2 80.0,9.9 118.7,10.0 116.5,11.7 114.0,12.6 106.0,12.9 99.5,14.5 94.0,17.6 87.0,20.1 80.0,24.2Z M197.0,239.1 196.0,239.3 193.0,238.7 185.5,238.0 181.5,236.8 176.4,234.5 173.8,232.5 172.1,230.5 170.1,226.5 168.7,222.0 168.4,219.0 170.3,213.5 171.0,207.0 170.9,195.5 170.5,190.0 171.4,180.0 177.1,163.5 178.3,161.5 184.0,154.5 192.5,150.0 197.7,148.0 207.5,145.7 218.5,145.5 225.3,143.0 230.0,142.1 231.9,141.0 236.4,136.5 239.0,132.9 244.0,130.4 246.0,128.5 247.9,126.0 248.6,123.5 248.6,119.0 249.5,110.0 251.7,104.0 252.1,101.5 250.9,94.0 247.2,87.5 242.5,81.0 231.8,70.5 230.4,68.5 230.3,65.5 232.1,58.0 231.5,52.0 231.9,46.5 231.3,42.5 231.7,39.0 231.4,37.0 229.4,32.0 228.0,30.3 225.0,29.6 223.9,29.0 221.9,24.0 219.3,20.0 217.5,18.0 214.2,16.0 207.5,14.0 206.1,13.0 204.0,10.0 325.2,10.0 325.6,25.0 326.9,32.0 328.8,47.5 330.2,53.0 331.5,55.9 334.0,59.8 336.0,62.0 339.9,64.5 341.4,69.5 345.4,73.5 345.7,75.5 345.3,80.0 346.0,82.5 349.4,88.0 353.0,89.8 354.5,91.6 354.5,100.0 352.5,101.5 346.5,103.7 342.5,108.6 338.5,111.4 334.0,115.3 332.1,118.0 326.5,129.1 324.5,131.3 320.5,133.9 318.3,138.0 316.6,140.0 313.0,142.1 306.0,143.3 302.5,145.5 301.5,147.7 300.1,159.0 299.1,161.5 295.3,165.0 288.2,168.5 283.6,172.0 281.0,175.6 278.7,178.0 276.5,182.7 273.5,183.9 271.0,187.2 267.5,189.5 251.5,194.8 249.0,196.0 243.0,196.7 235.0,199.1 233.0,199.9 227.0,203.7 219.0,206.9 213.5,211.5 212.0,217.7 210.6,221.0 208.9,227.0 205.9,232.5 200.2,237.5 197.0,239.1Z M80.0,22.5 80.0,9.9 116.5,10.0 113.5,11.2 106.0,11.3 99.0,12.7 93.2,16.5 87.0,19.0 80.0,22.5Z M197.0,238.0 186.0,237.5 181.5,236.2 177.0,234.1 174.5,232.1 172.9,230.0 171.1,226.0 170.0,222.0 169.7,219.0 171.4,214.0 172.1,207.5 171.6,190.0 172.7,180.5 178.7,163.5 180.1,161.0 184.7,155.5 192.0,151.4 198.5,149.0 207.0,147.0 209.5,146.7 215.0,147.2 218.0,147.0 225.5,144.4 230.0,143.5 232.9,142.0 239.5,136.8 244.9,135.0 249.7,128.5 251.2,125.0 251.8,119.5 251.7,109.0 253.3,102.5 252.8,94.5 251.5,90.9 245.4,81.0 240.5,75.0 235.5,70.9 233.4,67.5 233.4,64.5 234.7,59.5 235.1,54.5 236.5,50.0 236.8,47.0 235.4,38.0 233.1,31.5 232.5,25.5 232.8,21.0 232.0,18.3 231.0,17.1 230.0,16.7 226.5,17.6 224.1,15.0 223.0,14.4 219.0,14.8 214.5,13.7 209.5,13.2 208.0,12.2 206.5,10.0 324.2,10.0 324.9,25.5 327.8,47.5 329.3,54.0 333.2,63.5 335.6,67.0 336.9,70.5 338.7,73.5 339.6,77.5 342.2,80.5 344.2,84.5 344.8,86.5 345.2,90.5 346.0,91.6 350.9,95.5 351.7,97.0 351.4,98.0 345.5,101.2 341.0,105.1 338.0,106.8 335.2,110.5 332.0,113.1 327.8,120.0 325.6,125.0 323.8,128.0 322.0,129.8 318.1,132.0 315.0,137.5 313.5,139.2 312.0,140.1 310.0,140.3 304.0,138.6 301.5,139.2 300.0,140.0 299.2,141.5 298.6,144.0 299.1,151.5 298.1,158.5 297.4,160.5 295.1,163.0 292.3,165.0 287.4,167.5 281.5,171.5 276.6,176.0 274.5,179.2 269.5,184.7 267.0,186.7 265.0,187.6 261.5,188.1 256.5,191.2 248.5,194.5 243.5,195.1 233.5,197.3 232.0,198.2 227.0,202.6 218.5,206.5 213.7,210.5 213.0,211.5 211.5,217.5 208.0,226.9 206.8,229.0 204.7,232.0 201.0,235.5 199.5,236.8 197.0,238.0Z M80.0,21.1 80.0,9.9 104.5,10.0 98.0,11.2 92.5,15.6 80.0,21.1Z M212.0,11.1 210.0,11.0 208.7,10.0 219.2,10.0 212.0,11.1Z M197.0,236.6 196.0,236.8 191.0,236.2 184.5,236.4 179.0,234.5 176.2,232.5 173.8,229.5 172.3,226.0 171.1,221.0 171.0,219.0 172.6,213.5 173.3,207.0 172.8,199.5 172.8,188.5 174.4,179.5 177.0,173.0 180.5,162.5 184.3,157.5 186.5,155.4 192.0,152.4 199.0,150.0 208.5,148.0 215.0,148.5 219.5,147.9 232.0,144.0 238.0,140.0 240.5,139.1 243.5,139.3 247.5,141.3 250.0,141.1 251.0,140.3 251.7,139.0 251.9,137.5 251.4,132.5 254.4,124.0 253.5,109.0 254.4,101.5 254.0,94.5 253.5,91.5 249.1,81.5 244.5,76.0 242.6,71.5 241.5,70.7 239.0,70.4 237.5,69.7 236.3,68.5 235.7,67.0 235.7,65.0 237.2,60.5 237.8,57.0 239.4,52.5 240.2,47.0 238.9,40.0 236.6,33.0 235.1,19.0 234.0,16.0 232.5,13.9 231.0,13.0 227.5,12.0 224.6,10.0 323.2,10.0 324.1,24.5 325.5,37.0 327.1,49.0 329.4,59.0 329.6,65.5 330.2,67.0 332.9,70.5 336.9,79.5 340.7,84.0 342.2,92.0 343.7,96.0 343.4,98.0 337.0,103.1 335.4,105.0 333.4,108.5 329.5,111.5 327.4,116.0 324.4,120.0 322.9,124.5 320.5,127.5 314.5,130.1 311.5,130.8 308.5,133.4 303.0,135.2 298.6,137.5 297.0,139.0 296.4,140.5 296.1,145.0 297.1,150.5 297.0,153.5 296.0,159.0 294.0,161.8 291.0,164.1 279.5,170.5 275.4,173.5 273.9,175.0 269.1,182.0 267.0,183.9 265.5,184.4 260.5,184.7 254.5,189.6 251.0,191.5 245.5,192.3 240.0,194.1 232.0,195.5 230.5,196.5 226.5,201.4 218.5,205.6 212.6,211.0 210.8,217.5 207.0,226.5 206.0,227.9 200.2,234.5 197.0,236.6Z M81.0,19.5 80.0,19.9 80.0,9.9 97.2,10.0 91.5,15.0 81.0,19.5Z M186.0,235.5 182.0,235.0 179.5,233.9 176.6,231.5 174.2,227.5 172.3,219.5 173.7,213.5 174.5,207.0 173.8,189.0 176.3,179.0 178.4,173.5 181.1,164.0 181.9,162.0 185.5,157.6 188.0,155.6 192.0,153.4 199.5,151.0 208.5,149.3 215.0,149.8 219.5,149.2 232.5,145.0 238.5,141.6 240.5,140.9 243.0,141.1 247.0,142.7 250.5,142.2 252.2,141.0 253.4,139.0 254.3,132.5 256.2,126.0 256.3,123.0 254.9,108.5 255.4,102.5 254.5,90.0 251.5,81.0 247.6,75.5 244.8,69.5 240.5,64.8 240.7,60.0 242.6,55.0 243.8,49.0 243.7,45.5 239.3,34.5 237.5,25.5 237.3,20.5 236.0,16.2 234.0,12.9 230.0,10.0 322.2,10.0 323.2,18.0 324.9,39.5 327.2,57.5 327.1,59.0 325.8,63.5 325.8,67.0 326.9,69.5 329.6,72.0 331.2,76.0 336.2,84.0 338.3,90.0 338.3,91.5 337.6,92.5 334.6,93.5 333.7,94.5 333.8,101.0 332.5,104.5 331.0,106.4 327.5,109.0 325.5,114.6 324.4,116.0 320.5,119.0 319.7,122.5 318.7,124.0 317.5,124.7 316.0,124.9 311.5,124.2 309.5,124.5 308.0,126.0 306.3,129.5 305.1,131.0 296.4,136.5 295.0,137.8 294.4,139.5 294.0,146.5 294.6,151.5 294.5,157.0 293.5,159.5 291.7,161.5 289.1,163.5 285.0,165.6 277.5,168.5 272.5,169.5 269.1,171.5 268.1,172.5 267.7,173.5 268.3,176.5 268.0,178.5 267.0,180.2 265.5,181.2 263.0,181.3 260.2,180.5 259.6,179.5 260.8,177.0 260.7,175.5 259.0,174.1 257.0,174.1 256.0,175.0 255.7,176.5 256.0,177.8 257.7,180.0 257.6,180.5 251.0,187.7 249.5,188.3 245.0,189.2 239.1,192.0 232.0,193.2 230.0,194.0 228.5,195.3 225.5,200.0 218.5,204.5 212.5,209.9 211.6,211.5 210.0,217.5 207.0,224.0 205.5,226.1 202.5,229.0 199.0,233.2 196.5,234.5 191.5,234.0 186.0,235.5Z M80.5,18.6 80.0,18.8 80.0,9.9 95.1,10.0 91.0,14.1 80.5,18.6Z M186.0,234.0 184.5,234.3 182.2,234.0 180.0,233.0 177.8,231.0 175.9,227.5 173.6,219.0 174.9,213.5 175.7,206.5 174.9,189.5 177.2,183.5 178.0,179.0 179.8,173.5 182.2,164.0 183.1,162.0 186.4,158.0 189.5,155.6 192.5,154.2 200.0,151.9 209.0,150.6 215.5,151.1 219.5,150.8 233.5,145.8 240.5,142.5 242.5,142.6 247.0,143.9 251.0,143.1 253.3,141.5 254.7,139.5 257.5,128.0 257.8,124.0 256.9,112.0 256.2,108.0 256.3,103.0 255.6,88.0 253.5,81.1 250.4,76.5 248.3,70.0 244.2,61.5 244.1,59.0 245.4,55.5 247.1,49.0 246.0,42.1 245.1,40.0 243.0,38.0 242.0,36.5 239.1,26.0 238.8,21.0 237.9,17.5 236.2,13.5 233.4,10.0 321.2,10.0 322.6,18.5 323.9,39.0 325.5,51.5 325.0,57.0 323.4,63.5 323.3,66.5 324.5,72.0 326.3,75.0 326.5,76.0 325.8,78.0 321.8,82.5 321.2,84.0 321.6,85.0 324.6,87.0 326.0,88.5 327.8,92.5 330.1,96.0 330.4,99.5 329.1,103.5 325.5,107.0 323.6,111.5 322.5,112.9 316.0,115.9 312.5,120.1 308.2,121.5 306.5,122.5 304.5,124.7 302.4,129.0 300.8,131.0 293.5,136.6 292.7,138.5 292.3,143.5 290.3,151.5 292.0,155.0 292.2,157.0 291.5,158.5 290.3,160.0 286.0,163.0 281.0,163.4 275.0,164.7 268.5,168.0 264.5,169.3 260.0,169.4 255.0,167.9 253.5,168.1 252.8,169.5 252.5,172.5 251.3,176.0 251.7,180.5 250.5,182.5 248.5,183.7 244.0,184.7 238.5,189.0 230.0,191.6 226.8,193.5 225.5,195.0 223.6,198.5 220.5,200.7 215.0,206.7 211.5,209.6 210.8,211.0 209.1,217.0 206.8,221.5 205.5,223.3 201.5,225.6 197.5,230.1 196.5,230.5 194.0,229.7 192.5,229.8 186.0,234.0Z M333.0,88.2 332.5,88.2 332.0,87.5 332.5,86.4 333.3,87.0 333.0,88.2Z M80.5,17.7 80.0,17.8 80.0,9.9 93.6,10.0 90.0,13.6 80.5,17.7Z M185.0,232.0 182.5,232.3 180.5,231.5 179.1,230.0 178.4,228.5 177.2,223.5 175.4,219.5 175.1,218.0 176.7,213.5 177.3,202.5 176.2,193.0 176.2,190.0 179.4,184.0 179.8,178.5 183.3,164.0 184.6,161.5 187.6,158.0 190.5,156.0 200.0,153.0 209.0,152.1 220.0,152.9 222.5,152.0 227.5,149.0 234.5,146.6 240.0,144.2 242.0,144.0 247.0,144.9 251.5,143.9 254.0,142.4 255.8,140.0 258.8,128.5 259.1,124.5 257.0,99.5 257.0,87.5 254.9,80.5 251.7,75.5 248.1,62.5 248.4,60.5 250.4,59.0 251.0,57.5 249.7,53.0 248.9,45.5 247.5,39.5 244.0,35.0 241.5,28.8 240.5,25.5 239.9,20.5 238.6,16.0 237.4,13.0 235.4,10.0 320.1,10.0 322.0,19.0 323.0,31.0 322.9,39.0 324.2,46.5 324.4,50.5 321.6,65.0 322.7,77.0 321.7,79.0 317.8,83.5 317.2,85.0 317.0,87.0 317.7,89.0 321.5,91.2 324.2,94.5 326.1,100.0 326.2,101.5 325.8,103.0 321.0,109.7 313.6,113.5 310.0,118.0 305.5,119.7 303.7,121.0 302.5,122.7 299.8,129.0 292.3,135.5 291.2,137.5 290.5,142.5 289.2,146.0 284.1,156.5 283.0,158.0 280.5,159.6 275.5,161.5 270.0,164.7 264.5,166.4 259.5,166.7 253.5,164.1 251.6,164.0 250.4,164.5 245.0,173.5 241.5,177.3 239.9,183.0 238.4,185.5 236.5,186.8 230.5,188.6 222.8,192.0 220.3,194.0 216.4,203.0 214.4,205.5 211.0,208.0 210.2,209.0 207.5,217.0 205.3,220.5 203.5,221.4 198.6,222.0 195.2,224.5 189.5,226.8 188.2,228.0 186.5,230.9 185.0,232.0Z M192.4,199.0 194.1,198.0 196.5,195.1 198.5,194.8 200.0,194.0 201.0,192.5 200.5,191.0 199.5,190.7 198.5,191.0 195.5,192.7 191.5,191.8 188.4,192.0 187.0,192.5 186.6,194.0 187.8,196.5 190.5,199.0 192.4,199.0Z M81.0,16.6 80.0,16.9 80.0,10.0 92.3,10.0 89.0,13.0 81.0,16.6Z M182.5,227.7 181.5,227.3 180.2,223.0 177.6,218.5 177.9,217.0 179.7,214.0 178.6,208.5 179.0,206.0 180.0,203.7 182.0,202.2 186.5,201.8 190.5,202.9 192.5,202.8 199.0,200.1 205.0,198.2 206.0,197.3 206.3,196.0 206.0,194.5 203.0,189.0 202.0,188.1 200.5,187.8 195.0,188.8 187.5,188.3 184.5,188.8 183.1,190.0 182.2,191.5 181.5,197.7 181.0,198.2 180.5,198.2 179.5,197.1 178.2,193.5 178.1,190.5 178.9,189.0 181.5,186.5 182.2,185.0 182.4,183.0 181.7,178.5 182.9,171.5 184.6,163.5 187.4,159.5 189.0,157.9 191.5,156.4 201.5,153.9 208.5,153.7 214.0,154.2 219.5,155.2 221.5,155.0 224.5,153.5 229.0,149.8 234.5,148.2 240.0,145.8 242.0,145.5 247.0,145.9 252.5,144.5 256.0,142.0 257.6,138.5 260.2,128.0 260.3,125.0 259.4,111.5 258.5,107.0 257.9,100.0 257.7,95.0 258.1,86.5 256.0,79.7 252.9,74.5 250.9,65.0 251.1,62.5 253.4,58.0 253.5,55.4 251.1,49.5 249.2,38.0 248.0,35.5 244.6,31.5 242.9,28.5 239.5,15.5 237.3,10.0 318.9,10.0 321.5,19.5 322.3,30.0 322.0,39.0 323.5,48.0 323.3,51.0 321.4,57.0 320.3,63.5 319.8,77.0 319.0,78.5 318.0,79.5 313.9,81.5 313.6,82.5 313.8,85.5 313.3,87.0 312.4,88.0 309.9,89.5 307.5,92.1 306.5,92.4 305.0,92.2 301.0,89.4 300.0,89.5 299.6,90.0 300.7,99.5 300.5,100.0 297.5,100.6 296.4,101.5 296.6,104.5 295.9,108.0 296.5,109.8 298.9,112.0 300.8,117.0 300.8,119.0 300.0,123.5 299.1,126.5 298.2,128.0 293.0,132.5 289.9,136.5 288.9,139.0 287.7,144.5 286.3,147.5 283.0,151.6 279.5,154.5 277.7,157.0 270.0,162.5 263.5,163.7 260.0,163.7 249.0,160.9 247.0,161.6 244.5,164.5 241.5,164.0 240.5,164.2 239.8,168.0 238.2,172.5 238.1,181.0 237.0,183.5 235.0,184.4 230.0,184.1 227.5,184.2 226.5,184.7 223.5,188.5 218.7,191.5 215.2,194.5 214.4,196.5 214.8,200.0 214.3,202.0 212.5,203.7 208.5,205.0 207.5,205.8 206.8,211.0 203.0,217.0 202.0,217.5 200.0,217.6 193.5,217.0 192.9,219.0 192.0,220.3 191.0,220.7 189.0,220.0 187.8,222.0 185.0,224.3 182.5,227.7Z M308.5,111.6 306.5,111.4 304.6,109.5 303.1,106.0 300.8,103.5 300.5,100.0 303.5,99.4 308.0,100.7 311.0,100.2 312.7,99.0 313.3,96.0 314.0,94.7 315.5,93.9 317.5,94.1 318.7,95.5 320.5,100.2 320.8,102.0 320.6,103.0 317.5,105.5 315.0,109.2 308.5,111.6Z M81.0,15.7 80.0,16.0 80.0,10.0 90.9,10.0 87.7,12.5 81.0,15.7Z M211.5,194.6 210.5,194.8 209.5,194.2 204.0,187.0 202.5,186.0 200.5,185.7 193.0,186.9 188.6,186.0 186.5,184.9 185.9,183.5 185.7,180.0 184.2,176.5 184.0,173.5 185.4,164.5 187.5,160.8 189.5,158.6 191.5,157.4 201.5,155.2 206.0,155.2 215.0,156.2 221.0,157.7 223.5,157.7 227.1,156.5 228.9,152.5 230.5,151.1 235.5,150.3 241.0,147.5 246.0,147.2 253.0,145.3 256.3,143.5 257.8,141.5 261.6,127.5 261.7,119.5 260.8,115.0 260.6,110.5 259.5,106.1 258.7,100.0 258.5,95.0 259.4,89.0 259.3,86.0 256.8,78.5 254.0,73.1 252.9,65.0 253.1,63.0 255.1,57.5 255.2,54.0 252.5,48.5 251.9,39.5 251.2,37.0 249.7,34.0 245.9,30.5 244.0,27.5 238.8,10.0 317.7,10.0 320.5,17.9 321.0,20.5 321.7,29.0 321.1,39.0 322.7,47.5 322.3,51.0 319.7,58.5 318.4,69.5 317.3,73.5 315.7,76.0 310.5,78.7 308.0,80.5 305.5,84.9 304.5,86.0 303.0,86.4 299.0,86.5 297.3,87.5 296.4,89.5 296.7,93.5 295.8,95.0 292.5,96.0 288.5,95.9 287.7,96.5 287.2,97.5 287.5,99.5 290.0,102.0 292.0,105.0 292.7,110.5 295.0,114.8 297.1,117.0 298.0,118.5 298.3,122.0 297.0,126.1 295.6,128.0 292.0,131.4 288.5,135.8 285.7,138.5 285.4,139.5 285.7,143.5 284.5,146.5 277.3,152.0 274.9,155.5 269.5,159.9 262.5,161.0 255.5,160.5 244.5,156.6 239.0,153.6 237.0,153.1 235.5,153.8 233.0,157.3 228.5,158.5 225.3,163.0 223.6,167.5 223.0,178.5 220.5,186.5 219.3,188.0 211.5,194.6Z M235.0,168.2 234.5,168.3 234.2,167.5 234.8,166.5 235.5,166.4 235.7,167.5 235.0,168.2Z M234.0,179.7 232.5,178.6 232.4,176.0 231.3,174.5 231.2,173.5 232.0,172.8 232.6,173.5 232.5,176.0 234.5,178.5 234.5,179.5 234.0,179.7Z M186.5,215.0 184.5,215.2 183.1,214.0 181.8,209.5 182.3,208.0 183.5,208.1 188.9,211.5 189.0,212.5 188.5,213.5 186.5,215.0Z M196.5,212.0 195.3,211.5 195.1,211.0 195.5,210.5 196.3,210.5 197.0,211.0 197.2,211.5 196.5,212.0Z M80.0,15.1 80.0,10.0 89.5,10.0 84.7,13.0 80.0,15.1Z M260.5,158.5 255.5,158.8 250.5,157.3 246.2,154.0 244.7,152.0 244.4,151.0 245.1,149.5 246.5,148.5 255.5,145.5 257.5,144.4 258.8,143.0 263.1,128.5 263.7,120.0 262.4,115.0 262.1,110.5 260.6,106.0 259.5,100.0 259.4,95.0 260.6,89.0 260.5,85.5 257.5,76.8 255.3,72.0 255.5,63.5 257.1,56.0 257.1,52.5 254.1,47.5 254.1,40.0 253.3,37.0 251.0,32.8 247.0,29.6 245.5,27.5 239.9,10.0 316.6,10.0 319.9,18.5 320.6,22.0 321.1,29.0 320.3,39.0 321.8,45.0 322.0,47.5 321.5,50.5 318.6,58.0 315.4,71.5 313.9,74.0 306.6,79.0 303.0,83.4 297.5,84.5 294.3,86.0 293.6,87.0 293.3,90.0 292.5,91.3 291.0,91.6 288.0,91.1 286.5,91.8 285.0,93.6 284.1,96.5 284.1,99.0 284.8,101.0 286.0,102.5 288.0,104.0 288.9,105.5 288.4,110.0 288.8,112.5 291.8,117.0 295.7,120.0 296.2,122.0 295.8,124.0 294.1,127.0 291.2,130.0 288.6,133.5 287.0,134.7 285.0,135.0 283.0,134.7 278.0,131.6 276.0,131.8 274.5,132.7 269.5,138.0 269.0,139.5 269.5,141.1 272.0,143.2 276.0,144.2 278.0,143.9 280.5,141.5 281.5,141.4 282.3,142.5 282.3,144.0 278.4,148.0 275.2,150.5 273.0,153.3 272.0,153.9 269.5,154.1 267.7,157.0 260.5,158.5Z M212.5,190.0 210.5,190.5 209.0,189.9 205.0,185.0 203.0,184.0 199.5,183.9 193.5,185.1 191.5,184.7 189.7,183.5 188.8,179.0 186.1,175.0 185.6,172.5 186.8,164.0 188.6,161.0 190.5,159.1 192.5,158.2 199.5,156.8 205.5,156.6 211.0,157.8 216.5,158.4 218.7,159.5 220.1,161.0 221.0,164.0 219.9,177.5 218.0,181.0 216.9,186.5 215.2,188.5 212.5,190.0Z M80.0,14.2 80.0,10.0 87.8,10.0 83.0,12.9 80.0,14.2Z M266.0,136.6 265.0,136.8 264.5,136.4 263.9,134.5 264.1,132.5 265.5,128.5 265.1,124.5 265.4,120.0 264.2,115.5 263.9,111.0 261.7,105.5 260.4,100.0 260.5,95.0 261.9,89.5 261.9,86.5 261.4,84.0 257.1,72.0 257.8,64.5 259.3,55.5 259.1,52.0 258.5,50.3 256.0,46.5 256.5,41.0 256.0,39.0 252.5,32.0 248.2,29.0 246.5,26.7 245.2,23.5 243.1,16.0 241.0,10.0 315.4,10.0 319.3,19.0 320.2,23.0 320.5,29.0 319.4,38.5 321.3,47.0 320.6,50.5 317.7,57.0 316.0,62.9 314.2,67.0 313.2,70.5 311.5,72.9 308.5,75.0 304.0,77.0 301.5,78.8 299.0,78.4 298.0,78.6 294.5,81.4 292.0,81.2 288.0,79.2 287.0,79.4 286.6,80.0 285.4,86.0 282.9,91.0 281.8,97.0 282.5,100.5 284.9,105.0 285.5,107.0 285.4,109.5 284.0,115.3 283.0,116.5 279.5,116.8 278.0,117.9 273.4,124.5 273.0,126.5 273.5,129.0 272.8,130.5 270.5,133.2 266.0,136.6Z M287.0,132.3 285.5,132.4 283.8,131.5 281.8,128.5 281.3,126.5 282.1,125.0 286.3,121.0 288.0,120.3 289.5,120.3 293.0,121.9 293.5,122.8 293.5,124.0 292.1,126.5 287.0,132.3Z M257.5,156.5 253.5,156.5 250.0,155.2 247.6,153.0 247.0,151.5 247.1,150.5 247.8,149.5 249.0,148.8 253.5,147.8 258.5,145.8 260.1,144.5 263.0,140.6 264.5,140.2 268.0,143.3 271.5,148.0 270.5,148.9 265.6,150.5 260.8,155.0 257.5,156.5Z M212.5,186.6 211.5,186.8 210.3,186.5 206.9,183.5 204.5,182.4 199.5,182.0 194.0,183.0 192.0,182.0 190.0,177.4 187.7,174.0 187.3,172.5 187.8,165.0 188.6,163.0 190.5,160.5 192.5,159.4 198.5,158.3 205.5,158.0 215.0,160.4 216.7,161.5 217.6,163.0 218.0,165.5 217.1,173.5 216.2,177.5 214.1,182.5 213.5,185.5 212.5,186.6Z M80.5,13.1 80.0,13.3 80.0,10.0 86.1,10.0 80.5,13.1Z M269.0,124.6 268.0,123.8 266.2,117.0 265.9,110.5 263.0,105.2 261.6,100.5 261.7,95.5 263.5,91.0 263.7,88.5 262.9,84.5 260.8,79.0 259.1,72.5 259.2,66.5 260.0,62.9 261.5,59.8 262.5,59.6 265.5,62.3 268.0,62.9 272.5,62.2 273.9,61.0 274.2,60.0 273.0,58.7 267.0,58.8 263.5,57.5 262.3,56.5 261.4,54.5 260.5,50.0 258.2,46.0 258.6,41.0 258.3,39.5 255.5,35.0 253.5,30.5 249.0,28.0 247.4,26.0 246.0,22.6 244.4,16.0 242.0,10.0 314.4,10.0 318.7,19.5 319.9,24.5 319.8,29.0 318.5,38.0 318.7,40.0 320.5,46.0 320.4,48.0 319.5,50.9 314.0,62.5 307.7,71.0 305.5,71.6 300.4,70.0 296.5,70.0 293.6,71.5 291.0,74.8 285.2,75.5 284.0,76.0 283.0,77.0 282.5,79.5 282.8,84.5 280.4,89.0 280.3,93.5 279.8,97.0 280.3,99.5 283.2,106.0 283.2,108.5 280.5,112.3 277.0,115.0 273.5,120.6 270.5,123.8 269.0,124.6Z M260.5,150.6 259.0,151.0 257.7,150.5 258.8,149.0 263.0,145.9 264.5,145.3 265.5,145.6 265.8,146.5 265.5,147.0 260.5,150.6Z M254.0,153.6 252.0,154.0 250.5,153.5 249.1,152.0 249.3,150.5 250.0,150.0 252.0,149.9 255.3,150.5 256.1,151.0 255.4,152.5 254.0,153.6Z M211.0,181.1 210.0,181.3 206.5,180.7 200.0,180.5 195.0,180.9 193.0,180.1 189.1,172.0 189.2,165.5 190.0,163.5 191.1,162.0 192.5,160.9 194.5,160.4 199.0,159.7 205.5,159.5 207.5,160.0 213.1,163.0 214.2,165.0 214.8,171.0 214.7,174.0 213.5,178.5 211.0,181.1Z M81.0,12.1 80.0,12.4 80.0,10.0 84.5,10.0 81.0,12.1Z M270.5,119.5 269.4,119.0 268.4,117.0 268.2,110.0 264.5,104.3 263.0,100.0 263.1,96.5 265.2,92.5 265.5,90.0 264.8,86.0 261.6,75.5 260.9,67.0 261.5,65.0 262.5,64.3 266.0,65.6 267.5,65.7 271.0,65.1 274.5,63.7 276.5,62.0 276.7,59.0 275.5,56.7 274.0,55.5 269.5,56.7 268.0,56.7 266.0,55.8 263.9,54.0 263.4,53.0 262.8,49.5 260.3,45.5 260.6,41.5 260.2,39.5 256.7,34.5 254.8,29.5 253.5,28.6 250.0,27.1 248.2,25.0 247.0,22.2 245.5,16.0 243.2,10.0 313.4,10.0 318.3,20.5 319.3,24.5 319.2,28.5 317.4,38.0 317.7,40.0 319.7,45.5 319.7,47.5 319.0,50.0 314.5,58.1 310.0,63.6 308.5,64.9 301.5,67.3 294.5,68.9 289.0,72.2 281.9,74.0 279.8,75.5 277.5,80.3 277.3,81.5 278.2,84.5 277.7,88.0 278.4,92.5 277.9,98.0 280.1,104.5 280.2,106.5 279.6,107.5 276.7,110.0 273.7,112.0 272.6,117.5 271.5,119.0 270.5,119.5Z M203.0,179.0 195.5,179.3 194.0,178.7 193.0,177.5 191.3,172.5 191.2,167.0 191.8,164.5 193.6,162.5 199.0,161.1 206.5,161.6 208.1,163.0 209.5,167.3 212.5,170.4 212.9,172.0 212.8,174.0 212.3,176.0 211.5,177.2 210.0,177.9 203.0,179.0Z M80.0,11.5 80.0,10.0 83.0,10.0 80.0,11.5Z M270.5,104.0 269.0,104.3 267.5,103.6 266.3,102.0 265.4,99.5 265.5,97.0 267.4,93.5 267.7,91.5 266.6,86.5 263.3,75.5 263.2,73.0 264.0,70.7 265.0,69.7 271.0,68.3 274.0,66.4 277.1,65.0 278.0,64.2 278.5,62.5 278.4,60.0 276.3,51.0 275.2,48.5 273.8,47.0 263.8,43.5 261.9,39.0 258.1,34.0 256.4,29.0 254.5,27.5 250.7,26.0 248.9,24.0 244.5,10.0 312.3,10.0 315.1,17.0 317.8,21.5 318.7,24.5 318.4,28.5 316.2,37.5 316.5,40.0 318.9,45.5 318.9,47.5 317.6,51.0 314.5,55.8 313.0,57.3 310.2,59.0 308.2,62.5 307.0,63.5 300.0,66.1 293.0,68.0 287.5,70.6 280.5,71.9 277.8,73.5 276.9,75.0 274.5,82.0 274.9,87.5 276.2,92.5 275.6,101.5 274.5,102.9 270.5,104.0Z M199.0,178.0 195.5,177.6 194.0,176.0 193.1,171.5 193.7,167.0 195.1,164.5 197.5,162.9 200.5,162.6 204.5,163.4 205.8,164.5 208.0,168.8 210.5,171.4 210.6,173.5 209.9,174.5 208.3,175.5 202.4,177.5 199.0,178.0Z M80.5,10.5 80.0,10.7 80.0,10.0 81.5,10.0 80.5,10.5Z M288.5,68.1 286.0,68.0 282.5,66.8 281.4,66.0 279.9,61.5 277.9,50.5 275.6,46.0 274.5,45.1 270.0,43.5 266.0,40.6 259.8,34.0 257.5,27.9 255.5,26.5 251.5,24.9 250.0,23.4 248.8,21.0 246.2,10.0 311.3,10.0 312.6,13.0 313.7,17.5 317.0,22.1 318.0,25.0 317.4,29.0 313.9,39.0 314.3,40.5 317.0,43.3 317.9,45.0 318.0,47.0 316.9,50.5 315.5,53.0 314.0,54.7 309.0,57.5 307.3,61.0 306.0,62.4 299.0,65.1 288.5,68.1Z M275.5,71.0 274.9,71.0 274.8,70.5 275.8,69.0 277.0,68.6 277.9,69.0 277.3,70.0 275.5,71.0Z M270.5,86.5 269.5,86.4 268.0,84.1 265.1,75.5 265.1,74.0 265.4,73.0 266.4,72.0 267.5,71.6 273.0,72.0 273.5,72.2 273.8,73.0 274.3,77.5 270.5,86.5Z M200.0,176.6 197.5,176.6 196.0,175.8 195.1,174.0 194.8,171.5 195.2,169.0 196.5,166.4 198.0,164.9 200.0,164.3 202.5,164.8 204.3,166.0 205.7,168.5 206.2,171.0 205.7,172.5 204.1,174.0 202.0,175.7 200.0,176.6Z M290.0,66.1 288.0,65.8 285.5,64.1 283.0,63.3 281.5,61.9 280.3,58.5 279.1,49.5 276.5,44.0 275.5,43.1 271.3,42.0 270.3,41.0 268.5,38.0 263.0,35.2 260.8,32.5 259.4,28.0 258.5,26.6 252.9,24.0 251.0,22.5 249.6,20.0 248.4,15.0 248.0,12.5 248.3,10.0 310.2,10.0 311.4,13.5 310.6,17.0 310.7,18.5 311.5,19.5 316.0,22.9 316.9,24.5 317.0,26.0 316.0,29.5 313.0,35.0 312.0,36.2 309.0,38.6 308.2,40.0 308.1,41.0 308.7,42.0 310.2,43.0 315.5,44.4 316.4,45.0 316.8,46.5 316.0,50.0 315.0,52.1 313.5,53.6 308.0,56.2 306.0,60.4 304.8,61.5 298.5,64.0 290.0,66.1Z M270.5,80.0 269.5,80.2 268.5,78.8 267.8,75.5 268.5,74.5 270.5,75.2 271.7,76.5 271.8,78.0 270.5,80.0Z M200.0,174.7 198.5,174.9 197.5,174.3 196.8,173.0 196.6,171.0 197.0,169.5 198.0,167.9 199.0,167.0 200.5,166.6 202.7,167.5 203.6,169.5 202.2,172.5 200.0,174.7Z M293.5,64.0 291.0,64.4 289.5,64.2 286.5,62.6 283.5,61.7 282.1,60.5 281.1,57.5 280.1,47.5 277.0,39.8 276.0,39.0 273.5,38.3 268.5,34.0 264.4,33.5 263.2,32.5 262.3,31.0 261.6,28.5 261.7,26.0 262.1,25.0 264.4,22.5 264.5,21.2 264.0,20.9 263.0,21.0 260.0,23.8 258.0,24.1 254.0,22.9 251.5,20.8 250.3,18.0 249.7,14.0 250.1,12.5 252.5,10.0 309.1,10.0 309.9,13.0 307.8,17.5 308.1,20.5 309.5,22.3 313.0,23.1 314.5,23.8 315.4,25.0 315.6,26.5 314.5,29.1 311.3,31.5 309.3,35.0 305.5,40.0 305.0,42.5 305.9,47.0 306.5,48.1 308.0,48.6 311.0,46.7 313.0,46.5 314.6,47.5 314.7,50.0 314.0,51.5 313.0,52.4 308.5,53.6 307.1,54.5 306.1,56.0 305.0,59.1 303.7,60.5 293.5,64.0Z M293.0,62.5 290.0,62.4 284.5,60.6 283.0,59.5 282.1,56.0 281.9,46.5 280.0,42.0 279.5,37.4 278.5,35.9 277.0,34.7 273.5,34.5 272.0,33.8 269.5,30.5 266.2,28.0 265.9,26.0 268.2,21.0 268.1,20.0 267.5,19.0 265.5,17.6 263.5,17.5 261.0,18.7 258.5,21.2 257.0,21.8 254.5,21.2 252.5,19.5 251.6,17.5 251.6,15.5 252.3,14.5 254.5,13.0 255.7,10.0 307.8,10.0 308.4,13.0 306.1,17.0 305.5,19.5 307.4,26.0 307.3,33.0 306.4,35.5 303.2,39.5 302.7,42.0 303.0,48.4 305.1,51.5 305.2,53.5 303.9,57.5 302.5,59.2 299.5,60.5 293.0,62.5Z M312.5,27.2 311.5,27.3 310.7,26.5 311.5,25.9 312.5,25.9 312.9,26.5 312.5,27.2Z M295.0,60.5 291.0,60.9 285.5,59.2 284.4,58.5 283.9,57.5 283.6,55.5 283.9,50.0 284.6,46.5 281.8,41.5 282.0,37.0 280.8,33.0 280.0,27.5 278.5,25.7 274.5,24.0 274.0,21.0 273.1,19.5 270.0,17.9 266.0,15.0 261.3,13.0 260.1,11.5 260.0,10.0 288.2,10.0 287.9,13.0 288.5,13.5 290.0,12.4 291.1,10.0 306.3,10.0 306.9,12.0 306.5,13.5 301.3,20.5 301.0,22.0 301.9,25.5 299.7,30.0 300.5,40.0 300.2,48.5 300.9,50.5 302.7,53.0 302.7,55.0 302.0,56.7 300.8,58.0 295.0,60.5Z M271.0,26.6 269.9,26.0 270.5,25.0 272.0,25.5 271.9,26.0 271.0,26.6Z M272.5,14.1 271.5,14.4 270.5,14.0 268.5,12.3 266.0,11.0 265.4,10.0 275.2,10.0 274.3,12.5 272.5,14.1Z M293.5,59.6 291.5,59.6 289.9,59.0 287.7,57.5 286.6,56.0 286.2,50.5 288.2,46.5 288.4,45.0 287.9,44.0 285.4,42.5 284.5,41.5 284.5,38.0 283.7,34.5 283.7,32.5 284.5,30.6 287.5,28.7 290.0,24.8 292.8,22.0 294.3,18.0 294.8,14.0 296.3,10.0 303.1,10.0 304.2,11.5 304.2,13.0 303.0,14.3 300.0,16.0 298.8,18.5 298.0,24.0 296.9,27.5 297.8,32.0 297.8,34.5 295.7,39.5 300.0,55.0 299.3,56.5 298.2,57.5 295.5,59.0 293.5,59.6Z M282.5,24.7 281.0,24.2 278.8,22.0 278.3,20.0 279.0,18.5 281.5,18.3 283.2,19.5 283.6,21.0 283.5,23.0 282.5,24.7Z"/></g>
<clipPath id="landclip"><polygon points="104.2,252.0 104.2,250.5 108.7,242.5 114.9,232.2 118.0,217.8 116.9,209.6 115.9,197.3 112.4,185.0 110.8,172.6 104.6,169.5 105.6,164.4 106.3,158.0 108.0,148.0 111.3,141.0 116.4,134.3 122.5,128.2 132.7,123.3 140.0,123.2 150.0,121.0 156.0,119.2 160.0,117.0 164.0,112.5 168.0,109.5 172.0,107.5 176.9,105.6 187.0,102.3 195.9,101.2 202.6,103.4 207.0,106.8 208.2,113.5 206.0,116.8 200.4,116.3 196.0,116.3 192.4,119.4 191.2,124.3 191.8,131.0 192.7,138.5 188.0,142.0 184.1,143.4 174.4,144.6 168.3,148.3 164.6,154.4 161.0,161.7 159.8,169.0 157.3,178.8 159.8,182.4 158.5,188.5 157.3,200.7 156.1,210.5 152.4,217.8 151.2,223.9 154.9,227.6 164.6,232.4 174.4,237.3 184.1,241.0 190.0,242.4 197.3,243.7 203.4,241.2 210.1,236.3 212.6,230.2 214.4,222.9 215.0,218.0 216.2,213.2 220.5,210.1 226.6,208.3 233.9,206.5 240.0,204.6 244.9,202.2 250.0,201.0 252.5,200.4 262.0,198.0 272.0,195.6 280.0,192.0 289.1,188.3 296.0,184.5 303.7,179.7 310.0,175.0 315.9,171.2 322.0,169.5 328.1,168.8 333.0,168.0 339.0,166.3 345.0,163.5 351.0,160.2 360.0,158.0 360.0,260.0 104.2,260.0"/></clipPath>
<polygon points="104.2,252.0 104.2,250.5 108.7,242.5 114.9,232.2 118.0,217.8 116.9,209.6 115.9,197.3 112.4,185.0 110.8,172.6 104.6,169.5 105.6,164.4 106.3,158.0 108.0,148.0 111.3,141.0 116.4,134.3 122.5,128.2 132.7,123.3 140.0,123.2 150.0,121.0 156.0,119.2 160.0,117.0 164.0,112.5 168.0,109.5 172.0,107.5 176.9,105.6 187.0,102.3 195.9,101.2 202.6,103.4 207.0,106.8 208.2,113.5 206.0,116.8 200.4,116.3 196.0,116.3 192.4,119.4 191.2,124.3 191.8,131.0 192.7,138.5 188.0,142.0 184.1,143.4 174.4,144.6 168.3,148.3 164.6,154.4 161.0,161.7 159.8,169.0 157.3,178.8 159.8,182.4 158.5,188.5 157.3,200.7 156.1,210.5 152.4,217.8 151.2,223.9 154.9,227.6 164.6,232.4 174.4,237.3 184.1,241.0 190.0,242.4 197.3,243.7 203.4,241.2 210.1,236.3 212.6,230.2 214.4,222.9 215.0,218.0 216.2,213.2 220.5,210.1 226.6,208.3 233.9,206.5 240.0,204.6 244.9,202.2 250.0,201.0 252.5,200.4 262.0,198.0 272.0,195.6 280.0,192.0 289.1,188.3 296.0,184.5 303.7,179.7 310.0,175.0 315.9,171.2 322.0,169.5 328.1,168.8 333.0,168.0 339.0,166.3 345.0,163.5 351.0,160.2 360.0,158.0 360.0,260.0 104.2,260.0" fill="#8cb585" />
<polygon points="338.5,11.0 360.0,11.0 360.0,52.0 350.7,50.3 346.4,50.3 340.3,51.5 336.0,49.7 334.8,47.2 337.3,45.4 342.7,44.2 345.8,40.5 346.4,34.4 347.6,28.3 347.6,19.8 344.6,16.1 341.5,21.0 339.1,21.0 337.9,17.3" fill="#8cb585" />
<g clip-path="url(#landclip)">
<path d="M234.0,252.0 C216.7,247.0 234.0,229.0 236.0,222.0 C238.0,215.0 242.3,212.7 246.0,210.0 C249.7,207.3 253.3,207.5 258.0,206.0 C262.7,204.5 268.7,202.8 274.0,201.0 C279.3,199.2 284.8,197.3 290.0,195.0 C295.2,192.7 300.3,189.7 305.0,187.0 C309.7,184.3 313.8,180.8 318.0,179.0 C322.2,177.2 326.8,174.8 330.0,176.0 C333.2,177.2 335.3,173.3 337.0,186.0 C338.7,198.7 357.2,241.0 340.0,252.0 C322.8,263.0 251.3,257.0 234.0,252.0Z" fill="#d5c896" filter="url(#b5)"/>
<ellipse cx="298" cy="224" rx="34" ry="18" fill="#e2d9b2" filter="url(#b6)"/>
<ellipse cx="262" cy="238" rx="18" ry="10" fill="#cdbf8a" filter="url(#b4)"/>
<path d="M352,160 L352,252 L338,252 C340,230 338,200 330,175 Z" fill="#8db083" filter="url(#b4)"/>
<path d="M300,186 C320,176 335,172 352,166 L352,178 C335,182 318,188 304,194 Z" fill="#8db083" filter="url(#b3)"/>
<ellipse cx="135" cy="236" rx="14" ry="14" fill="#b6bf8f" filter="url(#b6)"/>
<path d="M218,252 L218,214 L236,208 L232,252 Z" fill="#86ae81" filter="url(#b4)"/>
<rect x="82" y="100" width="270" height="152" filter="url(#hillhi)" opacity="0.5"/>
<rect x="82" y="100" width="270" height="152" filter="url(#hilllo)" opacity="0.4"/>
<clipPath id="tanclip"><path d="M234.0,252.0 C216.7,247.0 234.0,229.0 236.0,222.0 C238.0,215.0 242.3,212.7 246.0,210.0 C249.7,207.3 253.3,207.5 258.0,206.0 C262.7,204.5 268.7,202.8 274.0,201.0 C279.3,199.2 284.8,197.3 290.0,195.0 C295.2,192.7 300.3,189.7 305.0,187.0 C309.7,184.3 313.8,180.8 318.0,179.0 C322.2,177.2 326.8,174.8 330.0,176.0 C333.2,177.2 335.3,173.3 337.0,186.0 C338.7,198.7 357.2,241.0 340.0,252.0 C322.8,263.0 251.3,257.0 234.0,252.0Z"/></clipPath>
<g clip-path="url(#tanclip)"><rect x="230" y="160" width="122" height="92" filter="url(#hillhi2)" opacity="0.8"/><rect x="230" y="160" width="122" height="92" filter="url(#hilllo2)" opacity="0.55"/></g>
</g>
<g clip-path="url(#landclip)">
<polygon points="135.2,169.7 136.3,159.3 141.5,157.3 144.6,158.3 146.7,156.2 148.5,158.5 150.8,161.4 154.9,161.4 160.1,158.3 164.6,154.4 170.0,154.0 170.0,182.0 162.2,178.0 160.1,180.1 153.9,183.2 152.9,188.4 147.7,189.4 144.6,184.2 140.4,181.1 136.3,184.2 132.1,183.2 133.2,177.0 136.0,173.0" fill="#e8f3f7" stroke="#222" stroke-width="0.6"/>
<polygon points="141.5,170.7 147.7,169.7 153.9,170.7 159.1,168.7 161.2,173.8 158.1,178.0 151.8,177.0 146.6,179.0 142.5,177.0 139.5,174.0" fill="#86ae81" stroke="#222" stroke-width="0.6"/>
</g>
<polygon points="104.2,252.0 104.2,250.5 108.7,242.5 114.9,232.2 118.0,217.8 116.9,209.6 115.9,197.3 112.4,185.0 110.8,172.6 104.6,169.5 105.6,164.4 106.3,158.0 108.0,148.0 111.3,141.0 116.4,134.3 122.5,128.2 132.7,123.3 140.0,123.2 150.0,121.0 156.0,119.2 160.0,117.0 164.0,112.5 168.0,109.5 172.0,107.5 176.9,105.6 187.0,102.3 195.9,101.2 202.6,103.4 207.0,106.8 208.2,113.5 206.0,116.8 200.4,116.3 196.0,116.3 192.4,119.4 191.2,124.3 191.8,131.0 192.7,138.5 188.0,142.0 184.1,143.4 174.4,144.6 168.3,148.3 164.6,154.4 161.0,161.7 159.8,169.0 157.3,178.8 159.8,182.4 158.5,188.5 157.3,200.7 156.1,210.5 152.4,217.8 151.2,223.9 154.9,227.6 164.6,232.4 174.4,237.3 184.1,241.0 190.0,242.4 197.3,243.7 203.4,241.2 210.1,236.3 212.6,230.2 214.4,222.9 215.0,218.0 216.2,213.2 220.5,210.1 226.6,208.3 233.9,206.5 240.0,204.6 244.9,202.2 250.0,201.0 252.5,200.4 262.0,198.0 272.0,195.6 280.0,192.0 289.1,188.3 296.0,184.5 303.7,179.7 310.0,175.0 315.9,171.2 322.0,169.5 328.1,168.8 333.0,168.0 339.0,166.3 345.0,163.5 351.0,160.2 360.0,158.0 360.0,260.0 104.2,260.0" fill="none" stroke="#1f2a2a" stroke-width="0.6"/>
<polygon points="338.5,11.0 360.0,11.0 360.0,52.0 350.7,50.3 346.4,50.3 340.3,51.5 336.0,49.7 334.8,47.2 337.3,45.4 342.7,44.2 345.8,40.5 346.4,34.4 347.6,28.3 347.6,19.8 344.6,16.1 341.5,21.0 339.1,21.0 337.9,17.3" fill="none" stroke="#1f2a2a" stroke-width="0.6"/>
<g fill="none" stroke-width="1.45" stroke-linejoin="round">
<ellipse cx="220" cy="111.5" rx="8" ry="6" fill="none" stroke="#d3e6f2" stroke-width="1.6"/>
<path stroke="#fce2d3" d="M113.2,163.5 111.0,163.6 109.5,163.3 108.0,162.8 106.2,161.8 103.8,159.6 102.7,158.5 99.4,154.5 97.7,152.0 96.2,148.8 95.5,146.0 95.1,143.5 95.1,140.8 95.4,139.2 95.4,137.2 95.7,135.2 97.0,129.8 97.7,128.0 99.3,124.5 100.1,123.2 102.4,120.2 103.7,119.0 105.0,118.2 106.8,117.4 111.0,116.2 113.0,115.7 115.5,115.4 122.8,115.4 129.0,116.2 132.2,117.0 136.0,118.2 139.3,120.5 140.0,120.6 140.8,120.4 141.5,119.9 142.8,118.6 147.6,112.5 149.5,111.0 152.0,109.2 156.8,106.8 161.5,103.3 168.5,99.8 174.0,95.8 177.0,94.0 184.0,90.6 186.2,89.2 186.7,88.8 186.8,88.0 186.2,86.0 186.2,85.2 186.6,84.2 187.1,83.5 191.0,80.5 197.0,76.5 204.8,69.9 206.8,67.5 208.2,65.7 209.8,64.0 214.2,58.2 216.0,56.2 218.0,54.5 219.5,53.5 221.2,52.4 225.0,50.8 234.8,46.1 240.2,43.1 242.2,42.2 243.2,42.0 244.0,42.0 245.5,42.3 246.8,42.0 255.5,37.8 262.8,34.7 264.0,34.3 271.2,32.7 273.5,32.4 275.2,32.4 277.2,32.7 278.2,33.1 279.5,33.9 280.8,35.2 281.5,36.4 282.1,37.8 282.6,39.2 282.9,41.0 282.5,43.8 281.3,48.8 280.6,50.5 278.9,53.8 275.2,59.0 269.8,66.0 268.0,68.1 265.5,70.0 263.2,71.5 260.8,72.9 259.5,73.3 257.0,74.0 255.8,74.5 254.0,75.7 251.5,77.0 249.5,78.4 247.5,79.5 245.2,80.2 244.0,80.4 243.2,80.3 238.8,79.0 238.2,79.0 237.7,79.2 237.2,79.8 236.7,80.5 230.7,92.2 230.2,93.8 230.1,95.8 229.8,97.0 228.9,98.8 227.8,100.1 226.5,100.8 224.0,101.8 220.2,104.3 218.8,105.0 216.8,105.7 213.5,106.3 211.0,106.6 205.0,106.7 201.2,107.8 199.2,108.0 197.8,108.6 195.4,110.2 192.5,113.1 189.3,116.0 185.0,118.8 181.8,121.2 172.8,128.5 169.2,130.7 163.0,133.8 159.1,135.5 155.0,137.7 153.2,138.4 149.5,139.5 147.5,139.9 143.0,140.2 141.2,140.6 140.0,141.1 139.0,141.9 136.8,144.1 134.5,145.5 134.0,146.0 133.3,147.0 129.5,154.8 127.0,158.5 126.0,159.6 124.0,161.0 121.5,162.2 118.8,162.8 113.2,163.5Z"/>
<path stroke="#f8c2a5" d="M150.5,126.5 149.0,126.2 147.5,125.5 144.0,123.3 143.1,122.2 142.9,121.2 143.3,120.2 144.2,118.7 146.1,116.5 147.5,115.2 150.8,113.2 153.0,112.1 156.2,111.2 157.4,110.5 160.3,108.5 163.8,105.8 168.8,101.5 172.2,99.3 175.2,98.4 178.8,98.4 180.8,97.9 184.2,96.7 186.8,95.1 188.8,93.0 190.1,91.2 190.7,90.2 190.7,89.8 190.6,89.2 189.6,87.5 189.4,86.8 189.6,85.8 190.2,84.8 191.7,83.2 195.5,80.6 199.0,76.9 205.8,71.1 207.5,68.9 209.8,66.5 214.5,60.4 217.8,57.1 219.0,56.2 223.0,53.9 225.5,52.8 234.0,48.4 241.0,45.1 242.2,44.9 244.2,45.1 245.2,45.0 253.0,41.7 258.5,40.1 262.0,39.4 266.8,38.9 270.5,39.1 273.0,39.7 274.2,40.2 275.2,40.9 276.5,42.2 277.3,44.2 277.6,46.2 277.6,49.8 277.3,51.5 276.7,53.2 275.8,55.0 274.2,57.3 272.1,59.8 267.2,64.6 265.8,66.3 263.8,67.8 260.8,69.3 258.0,70.0 255.0,70.4 252.0,71.1 247.0,71.4 244.0,71.8 242.5,71.6 240.8,71.7 240.0,71.9 239.5,72.2 239.0,72.8 238.2,74.0 227.8,94.5 225.6,97.5 221.8,101.4 220.5,102.3 218.5,103.4 216.0,104.3 213.0,104.8 210.5,105.1 205.0,105.1 201.0,104.4 199.8,104.5 199.0,105.1 197.8,107.0 197.0,107.9 196.0,108.8 194.3,110.0 191.2,111.6 184.0,114.6 177.8,117.6 174.2,119.7 173.2,120.4 171.3,122.5 170.0,123.3 167.8,123.9 163.2,123.9 160.0,124.2 157.8,124.7 152.8,126.1 150.5,126.5Z M115.2,156.5 111.8,156.6 109.2,156.0 106.5,154.8 104.0,152.8 101.8,149.8 100.6,146.8 99.9,143.5 99.9,139.8 100.7,135.8 101.9,132.5 103.7,129.5 106.4,126.2 109.5,123.9 112.2,122.5 114.0,121.9 116.2,121.4 119.0,121.4 121.8,122.0 124.0,123.0 126.0,124.4 127.5,125.9 128.3,127.0 129.5,129.0 130.5,132.0 131.1,135.0 131.1,138.0 130.3,142.0 129.3,144.8 127.3,148.5 125.1,151.2 122.8,153.2 120.8,154.6 118.0,155.9 115.2,156.5Z"/>
<path stroke="#f2a07f" d="M210.8,103.5 205.2,103.6 203.0,103.3 199.0,102.1 197.5,101.3 196.2,100.3 195.2,99.0 194.7,97.8 194.4,96.0 194.4,94.2 194.6,92.8 194.6,91.0 194.2,90.2 192.9,88.5 192.7,87.2 192.8,86.8 193.2,86.0 196.3,83.0 198.2,80.0 199.4,78.5 207.8,71.2 209.8,69.0 214.5,62.9 218.0,59.4 219.0,58.5 221.0,57.3 226.5,54.6 229.2,52.9 239.0,48.2 240.2,47.8 241.2,47.7 243.0,48.3 244.5,48.3 247.5,47.3 253.5,45.7 266.2,42.9 267.8,42.9 269.2,43.2 270.5,43.8 271.4,44.5 272.5,46.2 273.1,48.2 273.1,50.8 272.6,53.0 271.9,54.8 269.8,58.0 265.8,62.1 264.2,63.3 263.0,64.1 261.5,64.8 258.5,65.8 255.8,66.3 251.8,66.9 247.8,66.9 246.2,67.1 244.2,67.2 240.8,68.0 239.5,68.5 238.8,69.5 237.8,71.8 226.8,93.2 224.6,96.5 220.8,100.2 218.5,101.8 215.5,102.8 212.8,103.3 210.8,103.5Z M165.5,118.0 163.2,118.1 162.0,117.8 161.5,117.5 161.0,117.0 160.6,116.0 160.7,114.8 161.3,113.2 162.4,111.8 164.0,110.1 168.0,107.4 170.5,106.2 172.8,105.5 174.0,105.2 176.0,105.0 177.8,105.4 178.5,105.9 179.1,107.0 179.1,108.0 178.9,108.8 178.2,110.2 176.5,112.2 174.0,114.2 172.0,115.6 169.0,117.0 167.0,117.7 165.5,118.0Z M113.8,154.0 112.8,154.1 111.8,154.0 110.2,153.7 108.5,153.1 106.0,151.3 104.5,149.4 103.8,148.2 103.1,146.2 102.4,142.8 102.4,141.5 102.9,138.0 103.7,135.2 105.5,131.8 107.0,129.7 109.2,127.4 111.2,126.0 114.0,124.7 117.5,123.9 119.8,124.2 122.0,124.9 124.0,126.3 125.5,128.0 126.8,129.9 127.6,132.2 128.1,135.0 128.1,137.2 127.8,139.5 127.1,142.0 125.8,145.0 124.8,146.8 122.8,149.4 121.3,150.8 119.0,152.3 116.5,153.4 113.8,154.0Z"/>
<path stroke="#e07058" d="M210.8,102.0 205.2,102.1 203.0,101.8 201.0,101.3 199.7,100.8 197.2,99.1 196.4,98.0 195.9,96.2 195.9,94.5 196.1,92.2 196.1,90.5 195.9,89.0 195.9,88.0 196.3,87.0 197.4,85.2 198.7,82.2 200.2,80.0 201.2,79.0 209.8,71.6 214.4,65.5 218.2,61.6 219.5,60.8 223.2,58.5 226.8,56.7 231.0,54.2 237.0,51.3 239.2,50.5 240.0,50.4 240.8,50.8 241.0,51.2 241.4,52.8 241.8,53.2 242.0,53.2 242.8,53.1 245.0,52.0 249.8,50.3 252.8,49.5 256.2,48.9 260.0,48.6 263.2,48.9 265.0,49.3 265.8,49.7 266.4,50.2 267.3,51.8 267.6,53.2 267.5,54.8 266.8,56.8 266.1,57.8 265.0,58.6 260.8,60.7 257.0,62.0 252.0,63.3 249.8,63.8 245.0,64.5 243.5,64.3 242.2,63.9 239.5,62.0 239.0,62.0 238.8,62.2 238.6,62.8 238.5,65.5 236.7,70.5 225.3,92.8 224.5,94.0 223.4,95.5 220.5,98.4 219.5,99.3 218.5,100.0 217.0,100.8 215.2,101.3 212.8,101.8 210.8,102.0Z M114.2,151.0 112.5,151.1 110.5,150.5 109.2,150.0 107.7,148.8 106.4,147.0 105.6,145.2 104.9,142.0 104.9,140.5 105.4,138.0 106.1,135.8 107.4,133.2 109.2,130.7 111.8,128.7 113.8,127.7 115.2,127.2 117.5,126.9 119.2,127.3 121.0,128.0 122.4,129.0 123.9,130.8 124.8,132.5 125.3,134.5 125.3,138.8 124.9,140.5 124.2,142.8 123.3,144.5 121.9,146.5 119.8,148.6 118.0,149.8 116.2,150.5 114.2,151.0Z"/>
<path stroke="#c9433f" d="M257.8,57.8 256.2,57.8 255.2,57.4 254.8,56.8 254.5,56.2 254.7,55.2 255.5,54.0 256.8,53.2 258.2,52.7 259.0,52.7 259.8,52.8 260.5,53.3 261.0,54.0 261.1,54.8 260.8,55.5 260.4,56.2 259.5,57.0 257.8,57.8Z M209.0,100.5 206.0,100.6 201.5,99.7 200.2,99.2 199.0,98.5 198.2,97.8 197.8,97.0 197.5,96.2 197.4,95.5 197.7,92.8 198.4,88.2 198.7,86.8 199.5,84.5 200.4,82.5 201.8,80.7 203.5,79.3 205.8,78.0 207.1,77.0 210.1,73.8 213.5,69.2 215.2,67.2 218.8,63.7 223.2,60.7 225.5,59.5 228.2,57.8 232.8,55.4 235.5,54.2 237.5,53.6 238.5,53.4 239.2,53.6 239.8,54.2 239.8,55.8 238.7,58.8 237.0,61.2 236.9,62.5 237.1,64.0 237.0,64.8 236.4,67.0 235.3,69.8 229.7,79.5 225.3,89.2 223.3,93.0 222.1,94.5 219.1,97.5 217.2,98.8 216.0,99.4 214.5,99.8 211.8,100.3 209.0,100.5Z M115.0,147.3 113.5,147.4 112.2,147.2 111.0,146.7 109.8,145.7 108.8,144.1 108.3,142.8 108.1,141.8 108.2,139.2 108.6,137.5 109.3,135.5 110.5,133.7 111.9,132.2 113.2,131.2 114.8,130.5 116.2,130.1 117.8,130.2 119.0,130.6 120.2,131.2 120.8,131.8 121.4,132.8 122.0,134.0 122.3,135.2 122.3,138.5 122.0,140.0 121.3,141.8 120.5,143.2 119.2,144.8 117.2,146.3 116.2,146.9 115.0,147.3Z"/>
<path stroke="#ab1a2d" d="M208.5,99.0 206.2,99.1 202.2,98.3 200.2,97.4 199.7,97.0 199.4,96.5 199.1,95.5 199.1,93.5 199.9,88.8 200.2,87.2 201.0,85.0 201.9,83.0 203.0,81.7 204.5,80.5 206.0,79.7 210.0,78.1 215.0,76.9 216.5,76.2 217.3,75.8 219.3,73.8 220.9,71.5 223.3,66.8 224.6,63.8 225.5,62.4 226.8,61.2 228.5,60.2 230.5,59.7 232.2,59.9 233.5,60.5 234.8,61.7 235.3,63.0 235.3,64.8 234.9,66.5 233.4,70.0 231.0,74.0 228.2,79.0 223.8,88.8 221.8,92.5 220.6,94.0 218.5,96.1 217.5,96.9 216.4,97.5 214.5,98.2 213.0,98.5 211.0,98.9 208.5,99.0Z M115.2,143.3 114.2,143.3 113.5,143.2 112.8,142.8 112.0,142.1 111.6,141.5 111.2,140.5 111.2,138.5 111.8,136.8 113.0,134.9 114.5,134.0 115.8,133.7 116.5,133.7 117.8,134.2 118.8,135.2 119.3,136.8 119.3,138.2 118.8,140.0 117.7,141.8 116.5,142.8 115.2,143.3Z"/>
<path stroke="#820a24" d="M228.5,69.3 228.0,69.5 227.5,69.4 226.8,68.8 226.5,68.2 226.5,67.8 227.0,67.1 227.5,66.9 228.0,67.0 228.8,67.5 229.0,68.0 229.0,68.5 228.8,69.0 228.5,69.3Z M205.2,95.0 204.0,95.1 202.2,94.5 201.2,93.5 200.8,92.2 200.8,91.5 201.2,90.2 202.6,87.5 203.9,85.5 205.0,84.5 207.2,83.1 212.0,81.1 215.5,80.2 216.5,80.3 217.2,80.7 217.6,81.2 217.7,81.8 217.6,82.5 217.2,83.2 216.2,84.6 214.2,86.8 210.6,91.5 209.0,93.1 208.0,93.9 206.5,94.7 205.2,95.0Z"/>
</g>
<line x1="132.3" y1="112" x2="156" y2="146.3" stroke="#111" stroke-width="2" stroke-dasharray="4.2,2.4"/>
<line x1="173.4" y1="82.7" x2="194.5" y2="115" stroke="#111" stroke-width="2" stroke-dasharray="4.2,2.4"/>
<line x1="208.3" y1="59.1" x2="232.5" y2="92.5" stroke="#111" stroke-width="2" stroke-dasharray="4.2,2.4"/>
<line x1="231.7" y1="43.3" x2="254.9" y2="76.2" stroke="#111" stroke-width="2" stroke-dasharray="4.2,2.4"/>
</g>
<text x="241.00" y="35.20"  text-anchor="middle" font-size="17.49" font-family="Liberation Sans, sans-serif" fill="#ffffff" stroke="#ffffff" stroke-width="3.4" stroke-linejoin="round" textLength="11.29" lengthAdjust="spacingAndGlyphs">A</text><text x="241.00" y="35.20"  text-anchor="middle" font-size="17.49" font-family="Liberation Sans, sans-serif" fill="#1b9e77" stroke="#1b9e77" stroke-width="0.45" textLength="11.29" lengthAdjust="spacingAndGlyphs">A</text>
<text x="217.40" y="51.30"  text-anchor="middle" font-size="17.49" font-family="Liberation Sans, sans-serif" fill="#ffffff" stroke="#ffffff" stroke-width="3.4" stroke-linejoin="round" textLength="11.32" lengthAdjust="spacingAndGlyphs">B</text><text x="217.40" y="51.30"  text-anchor="middle" font-size="17.49" font-family="Liberation Sans, sans-serif" fill="#d95f02" stroke="#d95f02" stroke-width="0.45" textLength="11.32" lengthAdjust="spacingAndGlyphs">B</text>
<text x="188.60" y="71.70"  text-anchor="middle" font-size="17.49" font-family="Liberation Sans, sans-serif" fill="#ffffff" stroke="#ffffff" stroke-width="3.4" stroke-linejoin="round" textLength="11.52" lengthAdjust="spacingAndGlyphs">C</text><text x="188.60" y="71.70"  text-anchor="middle" font-size="17.49" font-family="Liberation Sans, sans-serif" fill="#7570b3" stroke="#7570b3" stroke-width="0.45" textLength="11.52" lengthAdjust="spacingAndGlyphs">C</text>
<text x="150.80" y="98.50"  text-anchor="middle" font-size="17.49" font-family="Liberation Sans, sans-serif" fill="#ffffff" stroke="#ffffff" stroke-width="3.4" stroke-linejoin="round" textLength="12.71" lengthAdjust="spacingAndGlyphs">D</text><text x="150.80" y="98.50"  text-anchor="middle" font-size="17.49" font-family="Liberation Sans, sans-serif" fill="#e7298a" stroke="#e7298a" stroke-width="0.45" textLength="12.71" lengthAdjust="spacingAndGlyphs">D</text>
<text x="108.90" y="127.00"  text-anchor="middle" font-size="17.49" font-family="Liberation Sans, sans-serif" fill="#ffffff" stroke="#ffffff" stroke-width="3.4" stroke-linejoin="round" textLength="10.43" lengthAdjust="spacingAndGlyphs">E</text><text x="108.90" y="127.00"  text-anchor="middle" font-size="17.49" font-family="Liberation Sans, sans-serif" fill="#a6761d" stroke="#a6761d" stroke-width="0.45" textLength="10.43" lengthAdjust="spacingAndGlyphs">E</text>
<polygon points="309.7,34.4 316.7,34.4 313.2,41.0" fill="#f4772f" stroke="#1a1a1a" stroke-width="0.9" stroke-linejoin="miter"/>
<text x="313.20" y="30.60"  text-anchor="middle" font-size="12.51" font-family="Liberation Sans, sans-serif" fill="#fff" stroke="#fff" stroke-width="2.4" stroke-linejoin="round" textLength="7.51" lengthAdjust="spacingAndGlyphs">2</text><text x="313.20" y="30.60"  text-anchor="middle" font-size="12.51" font-family="Liberation Sans, sans-serif" fill="#111"  textLength="7.51" lengthAdjust="spacingAndGlyphs">2</text>
<polygon points="191.3,116.1 198.3,116.1 194.8,122.7" fill="#f4772f" stroke="#1a1a1a" stroke-width="0.9" stroke-linejoin="miter"/>
<text x="195.00" y="135.00"  text-anchor="middle" font-size="12.51" font-family="Liberation Sans, sans-serif" fill="#fff" stroke="#fff" stroke-width="2.4" stroke-linejoin="round" textLength="7.51" lengthAdjust="spacingAndGlyphs">6</text><text x="195.00" y="135.00"  text-anchor="middle" font-size="12.51" font-family="Liberation Sans, sans-serif" fill="#111"  textLength="7.51" lengthAdjust="spacingAndGlyphs">6</text>
<polygon points="339.8,154.2 346.8,154.2 343.3,160.8" fill="#f4772f" stroke="#1a1a1a" stroke-width="0.9" stroke-linejoin="miter"/>
<text x="343.10" y="151.40"  text-anchor="middle" font-size="12.51" font-family="Liberation Sans, sans-serif" fill="#fff" stroke="#fff" stroke-width="2.4" stroke-linejoin="round" textLength="7.51" lengthAdjust="spacingAndGlyphs">4</text><text x="343.10" y="151.40"  text-anchor="middle" font-size="12.51" font-family="Liberation Sans, sans-serif" fill="#111"  textLength="7.51" lengthAdjust="spacingAndGlyphs">4</text>
<line x1="321" y1="29.3" x2="333.5" y2="17.3" stroke="#fff" stroke-width="3.2" stroke-linecap="round"/>
<polygon points="337.8,12.8 330.3,15.2 335.4,20.3" fill="#111" stroke="#fff" stroke-width="1"/>
<line x1="321" y1="29.3" x2="333.5" y2="17.3" stroke="#111" stroke-width="1.5" stroke-linecap="round"/>
<polygon points="337.8,12.8 330.3,15.2 335.4,20.3" fill="#111"/>
<path d="M249.6,232.8 L249.6,241.4 L333.3,241.4 L333.3,232.8" fill="none" stroke="#fff" stroke-width="3.4" stroke-linejoin="round"/>
<path d="M249.6,232.8 L249.6,241.4 L333.3,241.4 L333.3,232.8" fill="none" stroke="#333" stroke-width="1.5"/>
<text x="291.60" y="230.50"  text-anchor="middle" font-size="9.96" font-family="Liberation Sans, sans-serif" fill="#fff" stroke="#fff" stroke-width="2.2" stroke-linejoin="round" textLength="29.55" lengthAdjust="spacingAndGlyphs">50 km</text><text x="291.60" y="230.50"  text-anchor="middle" font-size="9.96" font-family="Liberation Sans, sans-serif" fill="#222"  textLength="29.55" lengthAdjust="spacingAndGlyphs">50 km</text>
<rect x="82.5" y="13.0" width="268.2" height="237.3" fill="none" stroke="#1a1a1a" stroke-width="1.1"/>
<line x1="153.4" y1="250.3" x2="153.4" y2="253.9" stroke="#1a1a1a" stroke-width="0.95"/>
<text x="153.40" y="267.10"  text-anchor="middle" font-size="12.51" font-family="Liberation Sans, sans-serif" fill="#1a1a1a"  textLength="35.88" lengthAdjust="spacingAndGlyphs">137°E</text>
<line x1="302.2" y1="250.3" x2="302.2" y2="253.9" stroke="#1a1a1a" stroke-width="0.95"/>
<text x="302.20" y="267.10"  text-anchor="middle" font-size="12.51" font-family="Liberation Sans, sans-serif" fill="#1a1a1a"  textLength="35.88" lengthAdjust="spacingAndGlyphs">138°E</text>
<line x1="78.9" y1="13.0" x2="82.5" y2="13.0" stroke="#1a1a1a" stroke-width="0.95"/>
<text x="0" y="0" transform="translate(74.60,14.60) rotate(-90)" text-anchor="middle" font-size="12.51" font-family="Liberation Sans, sans-serif" fill="#1a1a1a"  textLength="29.74" lengthAdjust="spacingAndGlyphs">38°N</text>
<line x1="78.9" y1="198.7" x2="82.5" y2="198.7" stroke="#1a1a1a" stroke-width="0.95"/>
<text x="0" y="0" transform="translate(74.60,200.30) rotate(-90)" text-anchor="middle" font-size="12.51" font-family="Liberation Sans, sans-serif" fill="#1a1a1a"  textLength="29.74" lengthAdjust="spacingAndGlyphs">37°N</text>
<rect x="36.6" y="30.8" width="13.799999999999997" height="213.29999999999998" fill="#fff" stroke="#1a1a1a" stroke-width="0.95"/>
<line x1="36.6" y1="124.15" x2="50.4" y2="124.15" stroke="#fbe1d3" stroke-width="1.6"/>
<line x1="36.6" y1="151.85" x2="50.4" y2="151.85" stroke="#deebf5" stroke-width="1.6"/>
<line x1="36.6" y1="110.30" x2="50.4" y2="110.30" stroke="#f9c3a8" stroke-width="1.6"/>
<line x1="36.6" y1="165.70" x2="50.4" y2="165.70" stroke="#c0d9eb" stroke-width="1.6"/>
<line x1="36.6" y1="96.45" x2="50.4" y2="96.45" stroke="#f4a582" stroke-width="1.6"/>
<line x1="36.6" y1="179.55" x2="50.4" y2="179.55" stroke="#98c5e0" stroke-width="1.6"/>
<line x1="36.6" y1="82.60" x2="50.4" y2="82.60" stroke="#e0694f" stroke-width="1.6"/>
<line x1="36.6" y1="193.40" x2="50.4" y2="193.40" stroke="#5fa1cc" stroke-width="1.6"/>
<line x1="36.6" y1="68.75" x2="50.4" y2="68.75" stroke="#c93b3b" stroke-width="1.6"/>
<line x1="36.6" y1="207.25" x2="50.4" y2="207.25" stroke="#3575b3" stroke-width="1.6"/>
<line x1="36.6" y1="54.90" x2="50.4" y2="54.90" stroke="#a8162a" stroke-width="1.6"/>
<line x1="36.6" y1="221.10" x2="50.4" y2="221.10" stroke="#1f5a9c" stroke-width="1.6"/>
<line x1="36.6" y1="41.05" x2="50.4" y2="41.05" stroke="#7a0c22" stroke-width="1.6"/>
<line x1="36.6" y1="234.95" x2="50.4" y2="234.95" stroke="#0b3467" stroke-width="1.6"/>
<line x1="34.4" y1="234.95" x2="36.6" y2="234.95" stroke="#1a1a1a" stroke-width="0.8"/>
<line x1="33.0" y1="221.10" x2="36.6" y2="221.10" stroke="#1a1a1a" stroke-width="0.8"/>
<line x1="34.4" y1="207.25" x2="36.6" y2="207.25" stroke="#1a1a1a" stroke-width="0.8"/>
<line x1="34.4" y1="193.40" x2="36.6" y2="193.40" stroke="#1a1a1a" stroke-width="0.8"/>
<line x1="34.4" y1="179.55" x2="36.6" y2="179.55" stroke="#1a1a1a" stroke-width="0.8"/>
<line x1="34.4" y1="165.70" x2="36.6" y2="165.70" stroke="#1a1a1a" stroke-width="0.8"/>
<line x1="34.4" y1="151.85" x2="36.6" y2="151.85" stroke="#1a1a1a" stroke-width="0.8"/>
<line x1="33.0" y1="138.00" x2="36.6" y2="138.00" stroke="#1a1a1a" stroke-width="0.8"/>
<line x1="34.4" y1="124.15" x2="36.6" y2="124.15" stroke="#1a1a1a" stroke-width="0.8"/>
<line x1="34.4" y1="110.30" x2="36.6" y2="110.30" stroke="#1a1a1a" stroke-width="0.8"/>
<line x1="34.4" y1="96.45" x2="36.6" y2="96.45" stroke="#1a1a1a" stroke-width="0.8"/>
<line x1="34.4" y1="82.60" x2="36.6" y2="82.60" stroke="#1a1a1a" stroke-width="0.8"/>
<line x1="34.4" y1="68.75" x2="36.6" y2="68.75" stroke="#1a1a1a" stroke-width="0.8"/>
<line x1="33.0" y1="54.90" x2="36.6" y2="54.90" stroke="#1a1a1a" stroke-width="0.8"/>
<line x1="34.4" y1="41.05" x2="36.6" y2="41.05" stroke="#1a1a1a" stroke-width="0.8"/>
<text x="30.30" y="59.30" text-anchor="end" font-size="12.51" font-family="Liberation Sans, sans-serif" fill="#1a1a1a" textLength="7.51" lengthAdjust="spacingAndGlyphs" >3</text>
<text x="30.30" y="142.40" text-anchor="end" font-size="12.51" font-family="Liberation Sans, sans-serif" fill="#1a1a1a" textLength="7.51" lengthAdjust="spacingAndGlyphs" >0</text>
<text x="30.30" y="225.50" text-anchor="end" font-size="12.51" font-family="Liberation Sans, sans-serif" fill="#1a1a1a" textLength="11.77" lengthAdjust="spacingAndGlyphs" >-3</text>
<text x="0" y="0" transform="translate(10.00,137.70) rotate(-90)" text-anchor="middle" font-size="12.51" font-family="Liberation Sans, sans-serif" fill="#1a1a1a" textLength="151.72" lengthAdjust="spacingAndGlyphs" >vertical displacement (m)</text>
<rect x="404.4" y="98" width="273.20" height="152.50" fill="none" stroke="#1a1a1a" stroke-width="0.95"/>
<line x1="404.40" y1="250.5" x2="404.40" y2="254.1" stroke="#1a1a1a" stroke-width="0.95"/>
<text x="404.40" y="268.00" text-anchor="middle" font-size="12.51" font-family="Liberation Sans, sans-serif" fill="#1a1a1a" textLength="15.02" lengthAdjust="spacingAndGlyphs" >30</text>
<line x1="449.93" y1="250.5" x2="449.93" y2="254.1" stroke="#1a1a1a" stroke-width="0.95"/>
<text x="449.93" y="268.00" text-anchor="middle" font-size="12.51" font-family="Liberation Sans, sans-serif" fill="#1a1a1a" textLength="15.02" lengthAdjust="spacingAndGlyphs" >40</text>
<line x1="495.47" y1="250.5" x2="495.47" y2="254.1" stroke="#1a1a1a" stroke-width="0.95"/>
<text x="495.47" y="268.00" text-anchor="middle" font-size="12.51" font-family="Liberation Sans, sans-serif" fill="#1a1a1a" textLength="15.02" lengthAdjust="spacingAndGlyphs" >50</text>
<line x1="541.00" y1="250.5" x2="541.00" y2="254.1" stroke="#1a1a1a" stroke-width="0.95"/>
<text x="541.00" y="268.00" text-anchor="middle" font-size="12.51" font-family="Liberation Sans, sans-serif" fill="#1a1a1a" textLength="15.02" lengthAdjust="spacingAndGlyphs" >60</text>
<line x1="586.53" y1="250.5" x2="586.53" y2="254.1" stroke="#1a1a1a" stroke-width="0.95"/>
<text x="586.53" y="268.00" text-anchor="middle" font-size="12.51" font-family="Liberation Sans, sans-serif" fill="#1a1a1a" textLength="15.02" lengthAdjust="spacingAndGlyphs" >70</text>
<line x1="632.07" y1="250.5" x2="632.07" y2="254.1" stroke="#1a1a1a" stroke-width="0.95"/>
<text x="632.07" y="268.00" text-anchor="middle" font-size="12.51" font-family="Liberation Sans, sans-serif" fill="#1a1a1a" textLength="15.02" lengthAdjust="spacingAndGlyphs" >80</text>
<line x1="677.60" y1="250.5" x2="677.60" y2="254.1" stroke="#1a1a1a" stroke-width="0.95"/>
<text x="677.60" y="268.00" text-anchor="middle" font-size="12.51" font-family="Liberation Sans, sans-serif" fill="#1a1a1a" textLength="15.02" lengthAdjust="spacingAndGlyphs" >90</text>
<line x1="400.79999999999995" y1="250.50" x2="404.4" y2="250.50" stroke="#1a1a1a" stroke-width="0.95"/>
<text x="398.10" y="255.80" text-anchor="end" font-size="12.51" font-family="Liberation Sans, sans-serif" fill="#1a1a1a" textLength="28.65" lengthAdjust="spacingAndGlyphs" >−0.2</text>
<line x1="400.79999999999995" y1="212.38" x2="404.4" y2="212.38" stroke="#1a1a1a" stroke-width="0.95"/>
<text x="398.10" y="217.68" text-anchor="end" font-size="12.51" font-family="Liberation Sans, sans-serif" fill="#1a1a1a" textLength="28.65" lengthAdjust="spacingAndGlyphs" >−0.1</text>
<line x1="400.79999999999995" y1="174.25" x2="404.4" y2="174.25" stroke="#1a1a1a" stroke-width="0.95"/>
<text x="398.10" y="179.55" text-anchor="end" font-size="12.51" font-family="Liberation Sans, sans-serif" fill="#1a1a1a" textLength="18.77" lengthAdjust="spacingAndGlyphs" >0.0</text>
<line x1="400.79999999999995" y1="136.12" x2="404.4" y2="136.12" stroke="#1a1a1a" stroke-width="0.95"/>
<text x="398.10" y="141.43" text-anchor="end" font-size="12.51" font-family="Liberation Sans, sans-serif" fill="#1a1a1a" textLength="18.77" lengthAdjust="spacingAndGlyphs" >0.1</text>
<line x1="400.79999999999995" y1="98.00" x2="404.4" y2="98.00" stroke="#1a1a1a" stroke-width="0.95"/>
<text x="398.10" y="103.30" text-anchor="end" font-size="12.51" font-family="Liberation Sans, sans-serif" fill="#1a1a1a" textLength="18.77" lengthAdjust="spacingAndGlyphs" >0.2</text>
<text x="541.00" y="91.00" text-anchor="middle" font-size="15.01" font-family="Liberation Sans, sans-serif" fill="#1a1a1a" textLength="66.80" lengthAdjust="spacingAndGlyphs" >2: Sakata</text>
<rect x="80" y="301.4" width="272.80" height="152.80" fill="none" stroke="#1a1a1a" stroke-width="0.95"/>
<line x1="80.00" y1="454.2" x2="80.00" y2="457.8" stroke="#1a1a1a" stroke-width="0.95"/>
<text x="80.00" y="471.70" text-anchor="middle" font-size="12.51" font-family="Liberation Sans, sans-serif" fill="#1a1a1a" textLength="7.51" lengthAdjust="spacingAndGlyphs" >0</text>
<line x1="125.47" y1="454.2" x2="125.47" y2="457.8" stroke="#1a1a1a" stroke-width="0.95"/>
<text x="125.47" y="471.70" text-anchor="middle" font-size="12.51" font-family="Liberation Sans, sans-serif" fill="#1a1a1a" textLength="15.02" lengthAdjust="spacingAndGlyphs" >10</text>
<line x1="170.93" y1="454.2" x2="170.93" y2="457.8" stroke="#1a1a1a" stroke-width="0.95"/>
<text x="170.93" y="471.70" text-anchor="middle" font-size="12.51" font-family="Liberation Sans, sans-serif" fill="#1a1a1a" textLength="15.02" lengthAdjust="spacingAndGlyphs" >20</text>
<line x1="216.40" y1="454.2" x2="216.40" y2="457.8" stroke="#1a1a1a" stroke-width="0.95"/>
<text x="216.40" y="471.70" text-anchor="middle" font-size="12.51" font-family="Liberation Sans, sans-serif" fill="#1a1a1a" textLength="15.02" lengthAdjust="spacingAndGlyphs" >30</text>
<line x1="261.87" y1="454.2" x2="261.87" y2="457.8" stroke="#1a1a1a" stroke-width="0.95"/>
<text x="261.87" y="471.70" text-anchor="middle" font-size="12.51" font-family="Liberation Sans, sans-serif" fill="#1a1a1a" textLength="15.02" lengthAdjust="spacingAndGlyphs" >40</text>
<line x1="307.33" y1="454.2" x2="307.33" y2="457.8" stroke="#1a1a1a" stroke-width="0.95"/>
<text x="307.33" y="471.70" text-anchor="middle" font-size="12.51" font-family="Liberation Sans, sans-serif" fill="#1a1a1a" textLength="15.02" lengthAdjust="spacingAndGlyphs" >50</text>
<line x1="352.80" y1="454.2" x2="352.80" y2="457.8" stroke="#1a1a1a" stroke-width="0.95"/>
<text x="352.80" y="471.70" text-anchor="middle" font-size="12.51" font-family="Liberation Sans, sans-serif" fill="#1a1a1a" textLength="15.02" lengthAdjust="spacingAndGlyphs" >60</text>
<line x1="76.4" y1="438.92" x2="80" y2="438.92" stroke="#1a1a1a" stroke-width="0.95"/>
<text x="73.70" y="444.22" text-anchor="end" font-size="12.51" font-family="Liberation Sans, sans-serif" fill="#1a1a1a" textLength="17.39" lengthAdjust="spacingAndGlyphs" >−4</text>
<line x1="76.4" y1="408.36" x2="80" y2="408.36" stroke="#1a1a1a" stroke-width="0.95"/>
<text x="73.70" y="413.66" text-anchor="end" font-size="12.51" font-family="Liberation Sans, sans-serif" fill="#1a1a1a" textLength="17.39" lengthAdjust="spacingAndGlyphs" >−2</text>
<line x1="76.4" y1="377.80" x2="80" y2="377.80" stroke="#1a1a1a" stroke-width="0.95"/>
<text x="73.70" y="383.10" text-anchor="end" font-size="12.51" font-family="Liberation Sans, sans-serif" fill="#1a1a1a" textLength="7.51" lengthAdjust="spacingAndGlyphs" >0</text>
<line x1="76.4" y1="347.24" x2="80" y2="347.24" stroke="#1a1a1a" stroke-width="0.95"/>
<text x="73.70" y="352.54" text-anchor="end" font-size="12.51" font-family="Liberation Sans, sans-serif" fill="#1a1a1a" textLength="7.51" lengthAdjust="spacingAndGlyphs" >2</text>
<line x1="76.4" y1="316.68" x2="80" y2="316.68" stroke="#1a1a1a" stroke-width="0.95"/>
<text x="73.70" y="321.98" text-anchor="end" font-size="12.51" font-family="Liberation Sans, sans-serif" fill="#1a1a1a" textLength="7.51" lengthAdjust="spacingAndGlyphs" >4</text>
<text x="216.40" y="294.40" text-anchor="middle" font-size="15.01" font-family="Liberation Sans, sans-serif" fill="#1a1a1a" textLength="44.06" lengthAdjust="spacingAndGlyphs" >6: Iida</text>
<text x="216.40" y="488.70" text-anchor="middle" font-size="12.51" font-family="Liberation Sans, sans-serif" fill="#1a1a1a" textLength="111.78" lengthAdjust="spacingAndGlyphs" >elapsed time (min)</text>
<text x="0" y="0" transform="translate(46.30,377.80) rotate(-90)" text-anchor="middle" font-size="12.51" font-family="Liberation Sans, sans-serif" fill="#1a1a1a" textLength="62.07" lengthAdjust="spacingAndGlyphs" >height (m)</text>
<rect x="404.5" y="301.5" width="273.10" height="153.00" fill="none" stroke="#1a1a1a" stroke-width="0.95"/>
<line x1="404.50" y1="454.5" x2="404.50" y2="458.1" stroke="#1a1a1a" stroke-width="0.95"/>
<text x="404.50" y="472.00" text-anchor="middle" font-size="12.51" font-family="Liberation Sans, sans-serif" fill="#1a1a1a" textLength="7.51" lengthAdjust="spacingAndGlyphs" >0</text>
<line x1="450.02" y1="454.5" x2="450.02" y2="458.1" stroke="#1a1a1a" stroke-width="0.95"/>
<text x="450.02" y="472.00" text-anchor="middle" font-size="12.51" font-family="Liberation Sans, sans-serif" fill="#1a1a1a" textLength="15.02" lengthAdjust="spacingAndGlyphs" >10</text>
<line x1="495.53" y1="454.5" x2="495.53" y2="458.1" stroke="#1a1a1a" stroke-width="0.95"/>
<text x="495.53" y="472.00" text-anchor="middle" font-size="12.51" font-family="Liberation Sans, sans-serif" fill="#1a1a1a" textLength="15.02" lengthAdjust="spacingAndGlyphs" >20</text>
<line x1="541.05" y1="454.5" x2="541.05" y2="458.1" stroke="#1a1a1a" stroke-width="0.95"/>
<text x="541.05" y="472.00" text-anchor="middle" font-size="12.51" font-family="Liberation Sans, sans-serif" fill="#1a1a1a" textLength="15.02" lengthAdjust="spacingAndGlyphs" >30</text>
<line x1="586.57" y1="454.5" x2="586.57" y2="458.1" stroke="#1a1a1a" stroke-width="0.95"/>
<text x="586.57" y="472.00" text-anchor="middle" font-size="12.51" font-family="Liberation Sans, sans-serif" fill="#1a1a1a" textLength="15.02" lengthAdjust="spacingAndGlyphs" >40</text>
<line x1="632.08" y1="454.5" x2="632.08" y2="458.1" stroke="#1a1a1a" stroke-width="0.95"/>
<text x="632.08" y="472.00" text-anchor="middle" font-size="12.51" font-family="Liberation Sans, sans-serif" fill="#1a1a1a" textLength="15.02" lengthAdjust="spacingAndGlyphs" >50</text>
<line x1="677.60" y1="454.5" x2="677.60" y2="458.1" stroke="#1a1a1a" stroke-width="0.95"/>
<text x="677.60" y="472.00" text-anchor="middle" font-size="12.51" font-family="Liberation Sans, sans-serif" fill="#1a1a1a" textLength="15.02" lengthAdjust="spacingAndGlyphs" >60</text>
<line x1="400.9" y1="420.50" x2="404.5" y2="420.50" stroke="#1a1a1a" stroke-width="0.95"/>
<text x="398.20" y="425.80" text-anchor="end" font-size="12.51" font-family="Liberation Sans, sans-serif" fill="#1a1a1a" textLength="17.39" lengthAdjust="spacingAndGlyphs" >−1</text>
<line x1="400.9" y1="378.00" x2="404.5" y2="378.00" stroke="#1a1a1a" stroke-width="0.95"/>
<text x="398.20" y="383.30" text-anchor="end" font-size="12.51" font-family="Liberation Sans, sans-serif" fill="#1a1a1a" textLength="7.51" lengthAdjust="spacingAndGlyphs" >0</text>
<line x1="400.9" y1="335.50" x2="404.5" y2="335.50" stroke="#1a1a1a" stroke-width="0.95"/>
<text x="398.20" y="340.80" text-anchor="end" font-size="12.51" font-family="Liberation Sans, sans-serif" fill="#1a1a1a" textLength="7.51" lengthAdjust="spacingAndGlyphs" >1</text>
<text x="541.05" y="294.50" text-anchor="middle" font-size="15.01" font-family="Liberation Sans, sans-serif" fill="#1a1a1a" textLength="76.83" lengthAdjust="spacingAndGlyphs" >4: Naoetsu</text>
<text x="541.05" y="489.00" text-anchor="middle" font-size="12.51" font-family="Liberation Sans, sans-serif" fill="#1a1a1a" textLength="111.78" lengthAdjust="spacingAndGlyphs" >elapsed time (min)</text>
<g clip-path="url(#csak)">
<polyline points="404.5,184.0 406.0,177.9 410.6,177.4 413.2,180.4 415.8,183.0 418.3,182.0 420.9,176.1 422.4,176.3 425.0,184.3 427.0,175.3 429.0,181.0 431.6,180.0 435.7,175.3 437.7,177.9 440.6,192.5 442.8,172.8 445.4,171.4 447.4,176.9 449.0,175.3 452.0,181.5 454.0,183.0 456.6,174.8 458.9,166.3 461.2,176.3 463.5,193.2 465.8,176.3 467.9,175.3 470.4,185.3 472.0,179.5 474.6,171.3 477.1,180.5 479.1,189.6 481.7,176.4 483.7,176.9 486.3,190.1 488.3,184.6 490.8,176.9 493.4,183.5 495.4,188.1 497.4,182.0 499.5,183.5 502.0,185.6 504.6,194.2 506.6,188.6 508.1,175.9 509.1,164.2 511.2,168.8 513.7,181.0 515.2,169.8 516.2,161.7 518.5,159.0 519.7,157.8 521.7,144.6 523.2,135.4 524.7,130.3 526.8,129.3 528.8,138.5 529.8,144.6 531.3,141.5 532.9,134.4 533.9,131.9 534.9,139.5 535.9,150.7 537.4,157.8 539.9,163.5 542.1,162.8 544.2,155.7 545.1,148.6 547.1,144.6 549.1,139.5 550.7,138.5 552.7,141.5 554.7,142.5 556.7,136.4 558.3,134.9 560.0,140.0 561.5,151.5 563.0,160.7 564.5,157.0 566.1,154.6 568.1,170.0 569.7,173.2 571.2,166.1 572.2,156.6 574.2,150.5 575.2,149.5 577.3,162.7 578.3,175.2 579.8,187.4 581.8,195.1 584.4,192.5 586.4,197.6 588.5,207.8 589.5,207.0 591.5,199.6 593.5,193.5 595.1,196.1 596.6,187.4 598.1,177.3 599.6,170.2 601.7,171.2 603.7,177.3 605.0,177.7 607.6,184.3 609.6,193.6 611.6,202.8 613.6,199.5 615.6,200.8 617.5,194.9 620.2,185.6 622.2,187.0 624.8,192.9 628.1,189.6 630.7,188.3 632.7,193.6 634.7,189.6 637.3,181.7 639.3,179.7 641.3,185.0 643.3,191.0 645.9,183.0 647.9,184.3 650.2,194.1 652.6,197.3 653.8,206.2 654.7,220.1 657.1,218.8 658.3,208.7 659.5,199.3 660.7,206.2 662.4,213.6 664.0,213.6 666.0,207.9 668.1,214.4 670.5,218.8 672.9,212.3 675.4,216.8 677.6,218.8" fill="none" stroke="#111111" stroke-width="1.6" stroke-linejoin="round" stroke-linecap="butt"/>
<polyline points="404.4,174.2 500.5,173.9 504.6,171.8 508.6,167.8 511.7,162.2 513.7,156.1 515.1,147.6 518.1,136.4 521.2,125.2 523.7,119.7 525.2,118.6 527.3,121.2 529.3,130.3 531.3,142.5 532.9,155.0 534.2,178.5 536.4,192.7 538.5,205.6 540.7,212.0 542.8,208.4 544.9,197.0 547.1,181.3 549.2,164.2 550.7,152.7 552.7,149.6 554.7,152.7 556.7,164.0 557.7,174.2 560.6,187.0 563.4,192.0 566.3,187.0 568.4,171.4 569.1,158.6 571.2,146.4 573.2,141.8 575.2,140.8 577.3,143.4 579.3,150.5 580.8,158.6 581.8,163.0 584.4,175.2 586.4,186.4 588.5,184.4 591.0,177.3 593.5,176.3 596.1,176.8 598.1,171.2 600.7,168.1 603.7,168.1 605.0,167.2 607.0,170.0 609.0,176.4 611.6,177.7 614.2,187.0 616.9,200.2 618.9,197.5 621.5,190.9 624.8,198.2 628.1,189.6 631.4,188.3 634.7,187.0 636.7,184.3 638.7,176.4 640.0,169.8 642.0,163.2 644.6,160.6 647.2,155.9 649.9,163.2 652.5,172.5 655.2,177.7 657.8,181.7 659.5,190.0 660.7,206.2 662.4,216.8 663.6,219.7 664.8,214.4 666.0,206.2 667.2,197.3 668.1,190.0 669.7,179.1 671.7,168.5 673.0,165.9 675.0,169.8 677.6,165.9" fill="none" stroke="#1b9e77" stroke-width="1.6" stroke-linejoin="round" stroke-linecap="butt"/>
<polyline points="404.4,174.2 516.0,173.8 520.0,172.1 524.3,167.1 527.8,160.0 530.3,152.7 533.4,143.5 536.4,134.4 539.0,129.8 540.5,128.5 542.5,129.8 545.1,136.4 547.6,148.6 549.1,157.8 550.0,167.0 552.0,178.5 554.2,181.3 558.5,181.3 560.0,181.3 563.0,179.8 566.6,178.3 569.7,181.8 572.7,185.4 575.8,181.8 578.3,171.2 580.3,163.0 581.3,162.7 583.4,153.5 584.9,151.5 586.9,152.5 588.5,157.6 590.0,166.7 590.5,169.1 592.5,175.2 595.1,170.2 598.1,168.1 600.7,165.1 602.7,164.1 604.7,166.1 607.3,173.2 608.8,177.8 610.9,178.4 613.6,181.7 616.2,175.1 618.2,171.1 620.2,176.4 622.8,177.1 625.5,173.1 628.1,176.4 630.7,181.7 633.4,179.7 636.0,180.4 638.0,187.0 640.6,194.5 643.3,189.6 645.9,191.0 648.6,194.9 651.2,183.0 653.2,180.4 655.8,183.0 657.8,187.0 659.8,172.5 661.8,159.2 663.8,159.2 665.7,169.8 667.7,180.4 670.4,187.0 673.0,189.6 675.6,188.3 677.6,189.6" fill="none" stroke="#d95f02" stroke-width="1.6" stroke-linejoin="round" stroke-linecap="butt"/>
<polyline points="404.4,174.2 530.0,174.0 534.2,173.5 539.9,171.4 544.2,167.1 548.5,161.4 549.6,158.8 552.7,150.7 555.7,143.5 558.3,138.5 560.0,135.2 562.0,134.7 564.6,136.3 567.1,141.3 570.2,149.5 573.2,156.6 576.3,163.7 578.8,168.8 580.3,170.7 583.4,169.7 586.4,165.6 589.5,163.0 592.5,163.0 595.6,164.6 598.6,166.6 601.7,167.6 604.7,166.6 607.8,163.0 609.0,159.2 612.9,155.3 615.6,155.3 618.2,159.2 620.8,167.2 623.5,171.1 626.8,171.1 630.1,172.4 633.4,173.1 636.7,174.4 638.0,176.4 642.0,175.8 645.3,178.4 648.6,179.7 651.2,185.7 653.9,189.6 657.8,191.6 661.1,193.6 664.4,192.3 667.1,191.6 670.4,194.9 673.0,189.6 677.6,185.0" fill="none" stroke="#7570b3" stroke-width="1.6" stroke-linejoin="round" stroke-linecap="butt"/>
<polyline points="404.4,174.2 600.0,174.2 603.7,173.2 605.0,173.1 610.3,171.8 615.6,169.1 620.8,165.8 626.1,163.9 631.4,163.9 636.7,164.8 643.3,165.9 648.6,166.5 652.5,167.8 656.5,169.8 660.5,171.8 664.4,172.5 668.4,171.8 672.3,171.1 677.6,169.8" fill="none" stroke="#e7298a" stroke-width="1.6" stroke-linejoin="round" stroke-linecap="butt"/>
<polyline points="404.4,174.2 664.0,174.2 669.7,171.8 673.7,168.5 677.6,164.5" fill="none" stroke="#a6761d" stroke-width="1.6" stroke-linejoin="round" stroke-linecap="butt"/>
</g>
<g clip-path="url(#ciida)">
<polyline points="80.0,378.6 80.4,380.4 86.1,383.7 91.0,386.9 95.9,389.3 102.4,391.0 110.5,392.6 117.0,393.1 121.1,394.2 125.2,398.6 130.0,392.6 134.9,391.0 141.4,390.5 146.3,391.8 149.5,391.0 152.8,390.2 156.0,378.8 158.5,369.5 160.9,362.5 162.4,359.5 165.5,348.5 167.3,347.6 171.0,347.6 173.4,351.0 177.1,362.0 180.7,372.9 183.3,380.0 184.4,383.9 186.5,391.4 189.9,399.8 191.4,401.1 196.3,410.1 198.7,414.1 200.3,420.7 202.0,432.0 204.4,445.0 206.8,449.1 210.1,448.6 212.5,443.4 214.1,428.8" fill="none" stroke="#111111" stroke-width="1.6" stroke-linejoin="round" stroke-linecap="butt"/>
<polyline points="80.0,377.8 165.8,377.2 167.3,376.0 172.3,373.9 173.4,372.3 178.0,369.0 180.7,368.7 185.6,369.9 190.5,370.5 195.4,368.7 198.4,369.9 201.5,377.8 203.9,391.2 205.7,398.5 208.5,405.2 210.0,401.8 212.8,389.0 215.7,372.0 217.8,370.5 220.0,376.2 222.1,389.0 224.2,397.6 226.4,394.7 228.5,377.7 230.6,359.2 232.7,345.7 234.9,345.0 237.0,350.6 239.1,363.4 241.3,376.2 243.4,380.5 246.3,373.4 248.4,372.7 250.5,377.7 252.7,391.9 254.8,403.2 256.9,401.8 259.1,391.9 261.2,377.7 263.3,371.3 265.5,370.5 267.4,376.6 269.9,382.7 272.3,384.5 274.1,381.5 276.6,371.7 279.0,358.3 281.5,353.4 283.3,354.6 285.7,362.0 288.8,372.9 291.8,380.2 296.1,387.6 299.1,390.6 301.6,387.6 304.6,377.8 307.5,374.5 310.1,376.5 312.1,380.6 314.7,384.6 317.2,382.6 319.7,375.5 321.8,371.9 324.8,374.0 328.4,373.5 331.9,372.4 335.5,371.9 339.6,375.5 343.6,375.5 346.7,370.4 349.7,364.8 351.7,365.3 353.3,367.9" fill="none" stroke="#1b9e77" stroke-width="1.6" stroke-linejoin="round" stroke-linecap="butt"/>
<polyline points="80.0,377.8 157.7,377.2 160.0,376.6 164.9,372.9 169.8,369.3 174.6,368.3 180.7,367.4 184.4,368.7 190.5,374.1 195.4,380.2 199.0,390.0 202.8,397.9 205.1,396.7 208.5,391.4 211.5,394.2 212.1,394.7 214.3,390.5 216.5,381.5 217.8,377.7 221.4,379.1 225.6,370.5 227.8,364.9 229.9,369.1 232.0,373.4 234.2,363.4 237.0,354.2 239.1,359.9 241.3,376.2 244.1,387.6 246.3,383.3 248.4,377.7 251.2,384.8 254.8,389.7 256.9,387.6 259.8,381.9 263.3,377.7 265.0,369.3 266.2,367.0 268.7,365.6 271.1,371.1 273.5,373.5 276.6,366.2 278.4,360.7 280.9,362.6 283.9,368.7 287.0,375.4 290.6,380.2 294.3,386.3 297.9,391.8 300.4,391.2 304.0,386.3 308.0,381.6 310.1,383.9 312.1,386.2 315.2,378.5 317.2,374.5 320.2,376.5 321.8,378.5 323.8,370.4 325.8,363.3 327.4,365.3 329.4,370.4 331.9,372.4 334.5,368.4 337.0,366.8 339.6,371.4 342.1,375.5 345.1,375.5 347.7,382.6 349.7,387.7 352.8,391.8" fill="none" stroke="#d95f02" stroke-width="1.6" stroke-linejoin="round" stroke-linecap="butt"/>
<polyline points="80.0,377.8 102.4,378.8 108.9,379.9 117.0,378.8 126.8,378.0 133.3,378.8 138.2,382.0 143.9,384.0 147.9,382.0 152.8,373.9 159.3,360.9 163.7,352.2 167.9,348.5 171.0,349.8 174.6,357.1 178.3,368.0 182.0,377.8 185.6,386.3 190.5,393.7 193.8,397.1 197.8,394.9 201.5,390.6 206.3,388.2 212.4,383.3 214.3,383.3 218.5,386.9 222.1,390.5 224.9,386.2 228.5,380.5 231.5,382.0 234.9,384.8 237.7,381.9 240.6,376.9 244.1,379.1 247.7,380.5 251.2,376.2 255.5,366.3 259.8,359.2 264.7,360.6 267.4,355.9 271.1,352.8 273.5,356.5 276.0,361.3 278.4,362.6 282.1,362.6 284.5,366.2 287.0,376.6 289.4,385.1 294.3,391.2 297.9,395.5 301.0,397.3 305.2,394.9 308.9,389.5 311.1,382.6 314.1,376.5 317.2,373.0 321.3,371.6 325.3,371.2 329.4,370.9 332.4,371.9 336.5,374.5 340.6,377.5 344.6,381.6 347.7,384.6 350.7,383.6 353.3,380.0" fill="none" stroke="#7570b3" stroke-width="1.6" stroke-linejoin="round" stroke-linecap="butt"/>
<polyline points="80.0,377.8 212.0,377.8 216.0,376.6 236.0,376.4 242.0,377.6 250.0,378.6 257.0,378.8 265.0,377.9 285.0,376.8 305.0,377.2 320.0,376.6 326.0,375.6 344.0,375.6 350.0,377.0 353.0,377.5" fill="none" stroke="#e7298a" stroke-width="1.6" stroke-linejoin="round" stroke-linecap="butt"/>
<polyline points="80.0,377.8 325.0,377.8 332.0,376.9 343.0,376.9 348.0,377.6 353.0,377.8" fill="none" stroke="#a6761d" stroke-width="1.6" stroke-linejoin="round" stroke-linecap="butt"/>
</g>
<g clip-path="url(#cnao)">
<polyline points="404.5,377.7 404.9,377.5 409.0,376.4 411.5,377.0 415.4,379.3 419.5,377.5 423.0,378.7 426.5,376.4 430.0,378.7 433.5,376.4 435.9,378.7 438.2,381.0 440.5,377.5 442.9,376.4 446.4,378.1 449.9,378.1 453.4,379.3 456.9,377.5 459.2,376.9 461.6,379.3 465.1,380.4 467.4,377.5 469.7,375.8 472.1,377.5 474.4,379.9 477.9,380.4 482.0,380.0 483.9,379.3 486.4,381.5 488.8,382.6 491.3,360.7 493.7,336.3 495.3,324.9 497.8,324.6 499.4,336.3 501.0,355.8 502.6,375.3 504.3,376.1 505.9,369.8 507.5,372.0 510.0,376.9 512.4,381.0 515.7,384.2 519.7,384.2 523.0,385.0 525.4,380.2 528.7,373.7 530.5,362.0 531.8,360.1 534.3,362.0 536.1,374.1 538.5,386.3 541.6,393.7 543.4,393.7 545.9,388.8 548.3,382.7 550.7,375.4 552.6,372.9 555.6,372.3 559.3,372.9 561.7,375.4 564.1,380.2 566.6,385.1 569.0,391.2 571.5,396.1 573.0,398.5 575.0,403.3 577.1,405.4 579.5,404.1 581.5,402.5 583.6,397.6 586.0,394.4 588.5,388.7 590.9,384.6 593.3,381.4 595.8,381.8 598.4,383.9 602.1,387.0 607.0,388.2 610.6,387.0 614.3,383.9 617.9,383.9 621.6,386.3 624.0,383.9 626.5,376.6 628.9,368.0 631.3,363.2 634.1,360.8 638.1,362.8 642.2,365.8 646.3,368.4 648.8,366.8 651.8,363.8 654.4,365.3 656.9,369.9 659.5,367.9 662.5,364.8 665.1,364.3 668.1,362.8 670.7,365.8 673.2,370.4 675.7,375.5 677.6,376.5" fill="none" stroke="#111111" stroke-width="1.6" stroke-linejoin="round" stroke-linecap="butt"/>
<polyline points="404.5,377.7 484.8,376.9 488.0,368.8 491.3,352.5 493.7,341.1 495.3,337.9 497.8,343.6 499.4,355.8 501.0,375.3 502.6,388.3 504.3,397.2 506.7,391.5 509.1,385.0 511.6,380.2 515.7,373.7 518.9,372.8 522.2,375.3 525.4,377.7 528.7,376.1 531.9,372.8 534.9,371.1 539.8,369.9 542.8,370.5 545.2,368.7 547.7,370.5 550.1,375.4 552.6,381.5 555.6,387.6 559.3,389.4 562.3,388.8 565.4,391.2 569.0,396.1 572.1,393.7 574.5,385.1 576.3,374.1 578.2,368.0 580.0,365.0 582.4,365.6 584.3,370.5 586.1,380.2 588.0,391.2 590.5,392.4 593.5,388.8 596.0,381.5 597.8,372.9 599.6,369.9 602.7,369.9 605.1,375.4 607.0,385.1 608.8,394.9 611.2,386.3 613.0,380.2 616.7,381.5 620.4,376.6 622.8,372.3 625.2,376.6 627.7,385.1 630.0,388.7 632.0,391.7 634.1,381.6 636.1,365.3 638.6,350.6 640.7,354.1 643.2,367.4 645.2,381.6 647.3,383.1 649.8,378.5 652.4,375.5 654.9,373.5 656.4,361.3 658.5,359.2 661.5,358.2 663.5,361.8 666.1,370.9 667.6,380.1 670.1,382.6 672.7,387.7 674.7,381.6 677.6,366.0" fill="none" stroke="#1b9e77" stroke-width="1.6" stroke-linejoin="round" stroke-linecap="butt"/>
<polyline points="404.5,377.7 489.6,377.7 494.5,372.0 499.4,363.9 503.5,359.0 505.9,356.6 507.5,359.0 510.0,368.8 513.2,378.5 517.3,383.4 520.5,382.6 523.8,380.2 527.0,378.5 530.0,375.4 534.9,375.4 537.3,372.9 539.8,374.8 543.4,375.4 547.1,373.5 550.7,371.7 554.4,371.7 558.0,374.1 561.1,377.8 564.1,383.9 567.8,390.0 571.5,393.7 575.1,394.9 577.6,392.4 580.0,387.6 583.7,385.1 585.5,381.5 586.7,374.1 587.4,373.5 589.9,375.4 593.5,381.5 597.2,386.3 599.6,388.2 602.7,383.3 605.7,381.5 609.4,379.0 611.2,375.4 614.3,380.2 617.3,377.8 620.4,379.6 622.8,382.7 625.9,376.6 628.9,372.9 632.6,372.3 634.4,375.4 635.6,379.6 637.6,378.5 640.2,377.5 643.2,376.5 645.8,375.0 648.3,372.4 650.8,366.8 652.9,367.4 654.9,372.4 656.9,375.0 659.5,368.4 662.5,362.8 665.1,363.3 668.1,357.7 670.7,363.3 673.7,370.4 676.2,375.0 677.6,376.0" fill="none" stroke="#d95f02" stroke-width="1.6" stroke-linejoin="round" stroke-linecap="butt"/>
<polyline points="404.5,377.7 492.9,377.7 497.8,373.7 502.6,367.2 505.9,364.2 509.1,366.3 514.0,369.6 518.9,371.2 523.8,371.2 527.8,370.4 530.0,372.3 533.7,376.6 537.3,379.6 539.8,377.8 542.2,374.8 545.9,372.3 549.5,370.5 553.2,369.3 556.8,368.7 560.5,369.9 564.1,372.9 569.0,377.8 573.9,382.7 578.8,387.6 582.4,389.4 586.1,389.4 591.1,389.4 597.2,388.8 602.1,389.4 605.7,385.1 609.4,381.5 612.4,380.2 615.5,382.7 618.5,387.6 621.6,388.8 624.6,391.2 627.1,385.1 630.1,381.5 633.2,378.8 636.2,375.4 639.3,379.0 642.3,378.4 644.2,376.5 646.8,370.9 649.3,366.3 651.8,364.8 654.4,366.3 656.9,365.3 659.5,365.8 662.5,367.9 665.1,368.4 667.6,366.8 670.7,365.8 673.7,366.8 677.6,367.9" fill="none" stroke="#7570b3" stroke-width="1.6" stroke-linejoin="round" stroke-linecap="butt"/>
<polyline points="404.5,377.7 562.0,377.7 567.0,376.6 645.0,376.5 650.0,377.5 660.0,379.0 670.0,379.0 677.6,378.5" fill="none" stroke="#e7298a" stroke-width="1.6" stroke-linejoin="round" stroke-linecap="butt"/>
<polyline points="404.5,377.7 670.0,377.7 677.6,376.7" fill="none" stroke="#a6761d" stroke-width="1.6" stroke-linejoin="round" stroke-linecap="butt"/>
</g>
<polygon points="522.1,111.8 527.9,111.8 525.0,118.6" fill="#000"/><text x="525.00" y="109.90" text-anchor="middle" font-size="12.51" font-family="Liberation Sans, sans-serif" fill="#1a1a1a" textLength="7.23" lengthAdjust="spacingAndGlyphs" >a</text><polygon points="538.1,111.8 543.9,111.8 541.0,118.6" fill="#000"/><text x="541.00" y="109.90" text-anchor="middle" font-size="12.51" font-family="Liberation Sans, sans-serif" fill="#1a1a1a" textLength="7.49" lengthAdjust="spacingAndGlyphs" >b</text><polygon points="166.0,315.2 171.8,315.2 168.9,322.0" fill="#000"/><text x="168.90" y="313.30" text-anchor="middle" font-size="12.51" font-family="Liberation Sans, sans-serif" fill="#1a1a1a" textLength="7.26" lengthAdjust="spacingAndGlyphs" >e</text><polygon points="204.5,315.2 210.3,315.2 207.4,322.0" fill="#000"/><text x="207.40" y="313.30" text-anchor="middle" font-size="12.51" font-family="Liberation Sans, sans-serif" fill="#1a1a1a" textLength="4.15" lengthAdjust="spacingAndGlyphs" >f</text><polygon points="492.5,315.3 498.3,315.3 495.4,322.1" fill="#000"/><text x="495.40" y="313.40" text-anchor="middle" font-size="12.51" font-family="Liberation Sans, sans-serif" fill="#1a1a1a" textLength="6.49" lengthAdjust="spacingAndGlyphs" >c</text><polygon points="503.9,315.3 509.7,315.3 506.8,322.1" fill="#000"/><text x="506.80" y="313.40" text-anchor="middle" font-size="12.51" font-family="Liberation Sans, sans-serif" fill="#1a1a1a" textLength="7.49" lengthAdjust="spacingAndGlyphs" >d</text>
<rect x="543.8" y="10.3" width="133.6" height="57" rx="2.5" fill="#fff" fill-opacity="0.8" stroke="#cfcfcf" stroke-width="0.9"/>
<line x1="547.6" y1="19.9" x2="573.0" y2="19.9" stroke="#111111" stroke-width="1.6"/>
<text x="581.60" y="24.60" text-anchor="start" font-size="12.51" font-family="Liberation Sans, sans-serif" fill="#1a1a1a" textLength="24.61" lengthAdjust="spacingAndGlyphs" >obs.</text>
<line x1="547.6" y1="38.0" x2="573.0" y2="38.0" stroke="#1b9e77" stroke-width="1.6"/>
<text x="581.60" y="42.70" text-anchor="start" font-size="12.51" font-family="Liberation Sans, sans-serif" fill="#1a1a1a" textLength="8.07" lengthAdjust="spacingAndGlyphs" >A</text>
<line x1="547.6" y1="55.9" x2="573.0" y2="55.9" stroke="#d95f02" stroke-width="1.6"/>
<text x="581.60" y="60.60" text-anchor="start" font-size="12.51" font-family="Liberation Sans, sans-serif" fill="#1a1a1a" textLength="8.10" lengthAdjust="spacingAndGlyphs" >B</text>
<line x1="629.6" y1="19.9" x2="655.0" y2="19.9" stroke="#7570b3" stroke-width="1.6"/>
<text x="663.50" y="24.60" text-anchor="start" font-size="12.51" font-family="Liberation Sans, sans-serif" fill="#1a1a1a" textLength="8.24" lengthAdjust="spacingAndGlyphs" >C</text>
<line x1="629.6" y1="38.0" x2="655.0" y2="38.0" stroke="#e7298a" stroke-width="1.6"/>
<text x="663.50" y="42.70" text-anchor="start" font-size="12.51" font-family="Liberation Sans, sans-serif" fill="#1a1a1a" textLength="9.09" lengthAdjust="spacingAndGlyphs" >D</text>
<line x1="629.6" y1="55.9" x2="655.0" y2="55.9" stroke="#a6761d" stroke-width="1.6"/>
<text x="663.50" y="60.60" text-anchor="start" font-size="12.51" font-family="Liberation Sans, sans-serif" fill="#1a1a1a" textLength="7.46" lengthAdjust="spacingAndGlyphs" >E</text></svg></body></html>
